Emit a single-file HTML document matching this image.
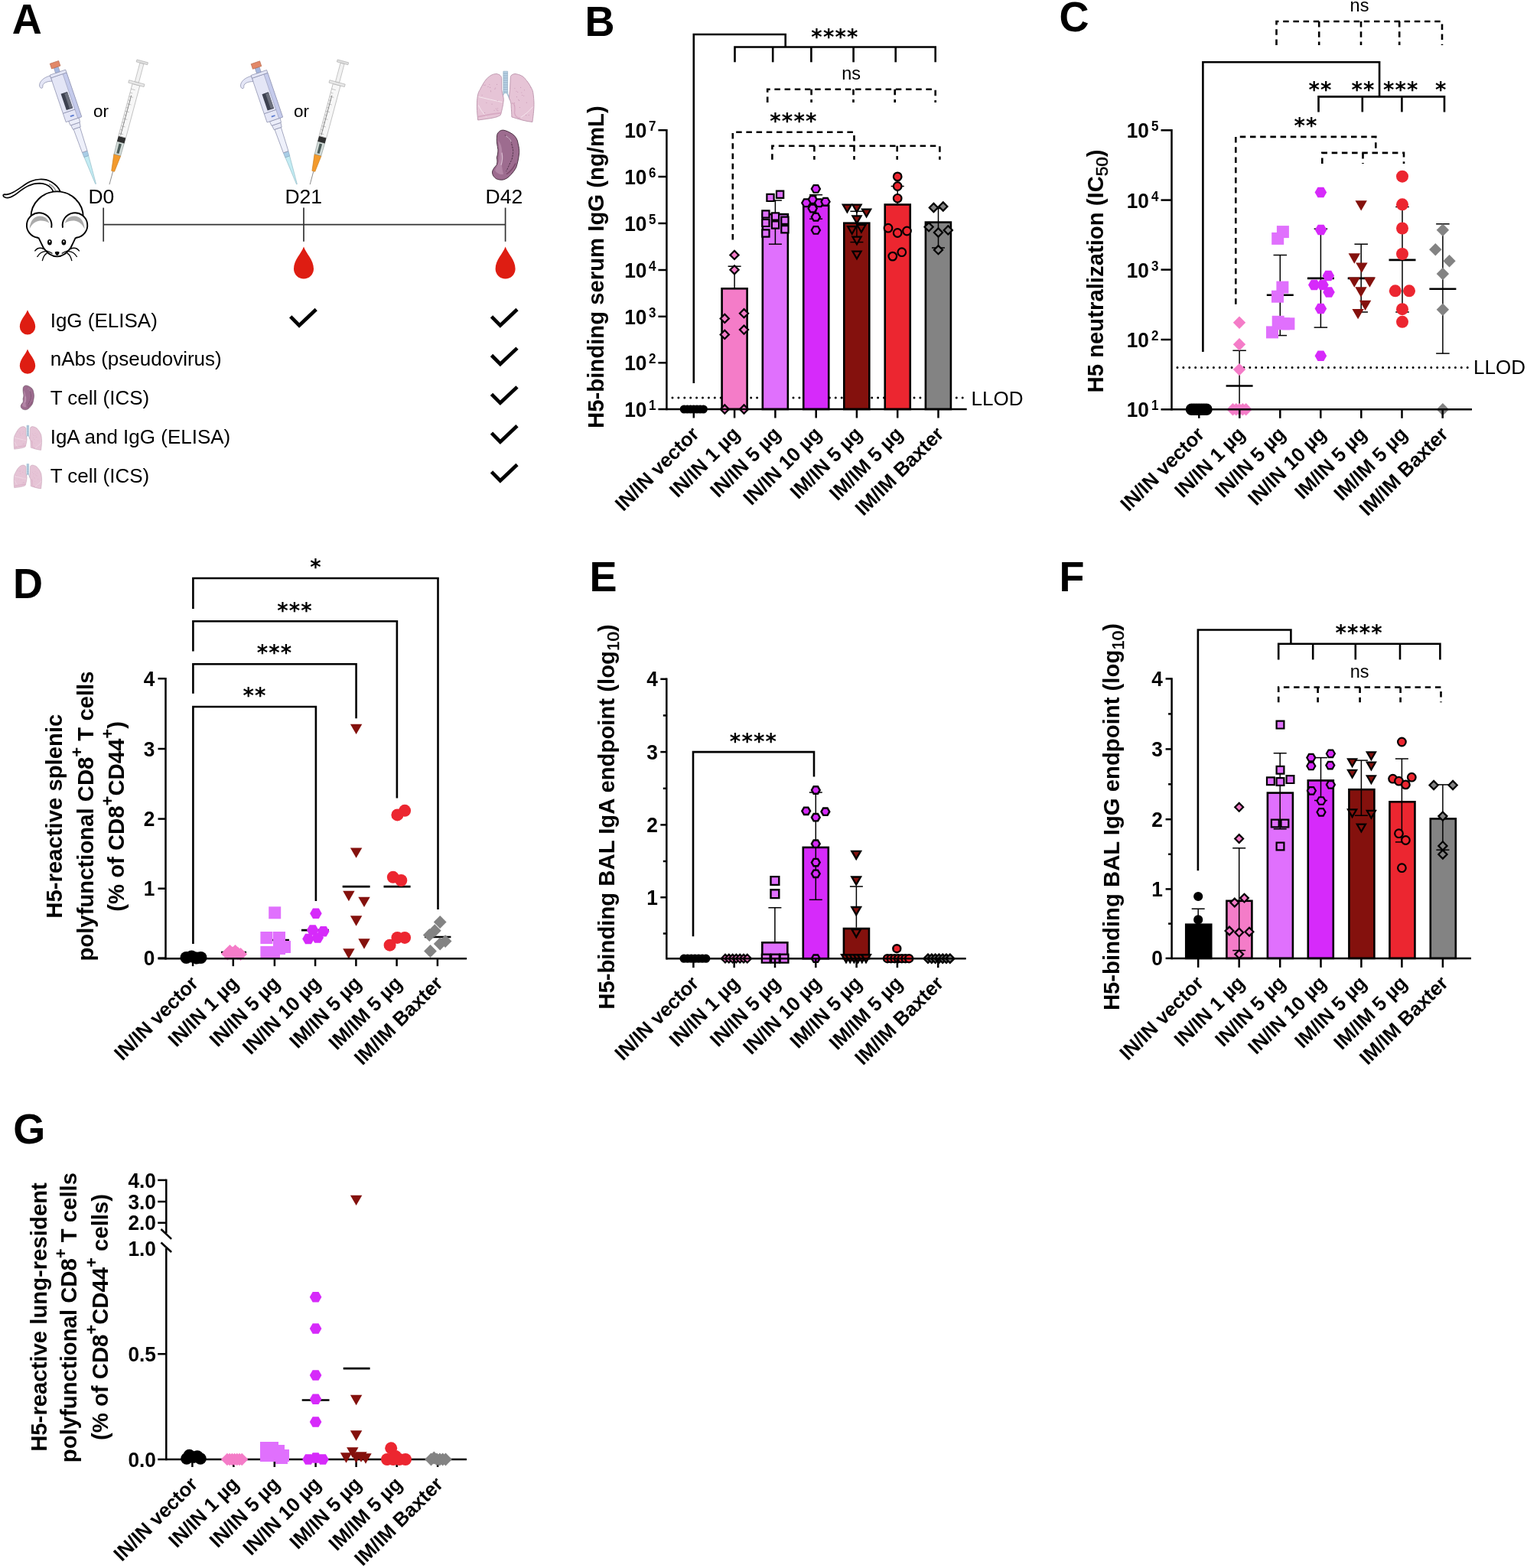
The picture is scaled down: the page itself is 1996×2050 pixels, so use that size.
<!DOCTYPE html>
<html><head><meta charset="utf-8"><title>Figure</title>
<style>html,body{margin:0;padding:0;background:#fff;}svg{display:block;}</style>
</head><body>
<svg xmlns="http://www.w3.org/2000/svg" width="1996" height="2050" viewBox="0 0 1996 2050">
<rect width="1996" height="2050" fill="#fff"/>
<text x="764.6" y="46.6" font-family='"Liberation Sans", Arial, Helvetica, sans-serif' font-size="54" font-weight="bold" text-anchor="start" transform="translate(764.6 46.6) scale(1 1.04) translate(-764.6 -46.6)">B</text>
<polyline points="906.8,501 906.8,45 1026.7,45 1026.7,61.5" fill="none" stroke="#000" stroke-width="2.6" stroke-linejoin="miter"/>
<polyline points="960.5,81.3 960.5,61.5 1222.7,61.5 1222.7,81.3" fill="none" stroke="#000" stroke-width="2.6" stroke-linejoin="miter"/>
<line x1="1010.2" y1="61.5" x2="1010.2" y2="81.3" stroke="#000" stroke-width="2.6" stroke-linecap="butt"/>
<line x1="1060.4" y1="61.5" x2="1060.4" y2="81.3" stroke="#000" stroke-width="2.6" stroke-linecap="butt"/>
<line x1="1115.6" y1="61.5" x2="1115.6" y2="81.3" stroke="#000" stroke-width="2.6" stroke-linecap="butt"/>
<line x1="1170.7" y1="61.5" x2="1170.7" y2="81.3" stroke="#000" stroke-width="2.6" stroke-linecap="butt"/>
<text x="1091.5" y="58" font-family='"DejaVu Sans", "Liberation Sans", sans-serif' font-size="27.5" font-weight="bold" text-anchor="middle" letter-spacing="1.2">****</text>
<text x="1112.7" y="104" font-family='"Liberation Sans", Arial, Helvetica, sans-serif' font-size="23.5" font-weight="normal" text-anchor="middle">ns</text>
<polyline points="1003.2,134 1003.2,116.8 1222.7,116.8 1222.7,134" fill="none" stroke="#000" stroke-width="2.6" stroke-linejoin="miter" stroke-dasharray="7.5 5.7"/>
<line x1="1060.6" y1="116.8" x2="1060.6" y2="134" stroke="#000" stroke-width="2.6" stroke-linecap="butt" stroke-dasharray="7.5 5.7"/>
<line x1="1115.5" y1="116.8" x2="1115.5" y2="134" stroke="#000" stroke-width="2.6" stroke-linecap="butt" stroke-dasharray="7.5 5.7"/>
<line x1="1169.7" y1="116.8" x2="1169.7" y2="134" stroke="#000" stroke-width="2.6" stroke-linecap="butt" stroke-dasharray="7.5 5.7"/>
<text x="1037.4" y="168" font-family='"DejaVu Sans", "Liberation Sans", sans-serif' font-size="27.5" font-weight="bold" text-anchor="middle" letter-spacing="1.2">****</text>
<polyline points="957.8,313.6 957.8,172.8 1116.5,172.8 1116.5,190.7" fill="none" stroke="#000" stroke-width="2.6" stroke-linejoin="miter" stroke-dasharray="7.5 5.7"/>
<polyline points="1009.4,208.7 1009.4,190.7 1228.4,190.7 1228.4,208.7" fill="none" stroke="#000" stroke-width="2.6" stroke-linejoin="miter" stroke-dasharray="7.5 5.7"/>
<line x1="1064.4" y1="190.7" x2="1064.4" y2="208.7" stroke="#000" stroke-width="2.6" stroke-linecap="butt" stroke-dasharray="7.5 5.7"/>
<line x1="1116.5" y1="190.7" x2="1116.5" y2="208.7" stroke="#000" stroke-width="2.6" stroke-linecap="butt" stroke-dasharray="7.5 5.7"/>
<line x1="1172.7" y1="190.7" x2="1172.7" y2="208.7" stroke="#000" stroke-width="2.6" stroke-linecap="butt" stroke-dasharray="7.5 5.7"/>
<line x1="879" y1="520" x2="1263.7" y2="520" stroke="#000" stroke-width="3" stroke-linecap="round" stroke-dasharray="0 7.9"/>
<text x="1269.6" y="529.5" font-family='"Liberation Sans", Arial, Helvetica, sans-serif' font-size="26" font-weight="normal" text-anchor="start">LLOD</text>
<rect x="943.6" y="377.3" width="33" height="157.7" fill="#f47cc8" stroke="#000" stroke-width="2.6"/>
<rect x="996.85" y="280.1" width="33" height="254.9" fill="#e070fd" stroke="#000" stroke-width="2.6"/>
<rect x="1050.25" y="268.6" width="33" height="266.4" fill="#d62afa" stroke="#000" stroke-width="2.6"/>
<rect x="1103.3" y="291.7" width="33" height="243.3" fill="#84110d" stroke="#000" stroke-width="2.6"/>
<rect x="1156.75" y="267.5" width="33" height="267.5" fill="#ec2630" stroke="#000" stroke-width="2.6"/>
<rect x="1209.9" y="290.6" width="33" height="244.4" fill="#838383" stroke="#000" stroke-width="2.6"/>
<line x1="960.1" y1="348.2" x2="960.1" y2="376" stroke="#000" stroke-width="1.5" stroke-linecap="butt"/>
<line x1="951.6" y1="348.2" x2="968.6" y2="348.2" stroke="#000" stroke-width="1.5" stroke-linecap="butt"/>
<line x1="1013.4" y1="262" x2="1013.4" y2="319.2" stroke="#000" stroke-width="1.5" stroke-linecap="butt"/>
<line x1="1004.9" y1="262" x2="1021.9" y2="262" stroke="#000" stroke-width="1.5" stroke-linecap="butt"/>
<line x1="1004.9" y1="319.2" x2="1021.9" y2="319.2" stroke="#000" stroke-width="1.5" stroke-linecap="butt"/>
<line x1="1066.6" y1="254.7" x2="1066.6" y2="286.2" stroke="#000" stroke-width="1.5" stroke-linecap="butt"/>
<line x1="1058.1" y1="254.7" x2="1075.1" y2="254.7" stroke="#000" stroke-width="1.5" stroke-linecap="butt"/>
<line x1="1058.1" y1="286.2" x2="1075.1" y2="286.2" stroke="#000" stroke-width="1.5" stroke-linecap="butt"/>
<line x1="1119.9" y1="276.3" x2="1119.9" y2="316.6" stroke="#000" stroke-width="1.5" stroke-linecap="butt"/>
<line x1="1111.4" y1="276.3" x2="1128.4" y2="276.3" stroke="#000" stroke-width="1.5" stroke-linecap="butt"/>
<line x1="1111.4" y1="316.6" x2="1128.4" y2="316.6" stroke="#000" stroke-width="1.5" stroke-linecap="butt"/>
<line x1="1173.2" y1="243.5" x2="1173.2" y2="266.2" stroke="#000" stroke-width="1.5" stroke-linecap="butt"/>
<line x1="1164.7" y1="243.5" x2="1181.7" y2="243.5" stroke="#000" stroke-width="1.5" stroke-linecap="butt"/>
<line x1="1226.5" y1="272.5" x2="1226.5" y2="324" stroke="#000" stroke-width="1.5" stroke-linecap="butt"/>
<line x1="1218" y1="272.5" x2="1235" y2="272.5" stroke="#000" stroke-width="1.5" stroke-linecap="butt"/>
<line x1="1218" y1="324" x2="1235" y2="324" stroke="#000" stroke-width="1.5" stroke-linecap="butt"/>
<circle cx="894.2" cy="535" r="5.5" fill="#000000"/>
<circle cx="898.4" cy="535" r="5.5" fill="#000000"/>
<circle cx="902.6" cy="535" r="5.5" fill="#000000"/>
<circle cx="906.8" cy="535" r="5.5" fill="#000000"/>
<circle cx="911" cy="535" r="5.5" fill="#000000"/>
<circle cx="915.2" cy="535" r="5.5" fill="#000000"/>
<circle cx="919.4" cy="535" r="5.5" fill="#000000"/>
<polygon points="960,327.8 965.6,333.4 960,339 954.4,333.4" fill="#f47cc8" stroke="#000" stroke-width="2.2" stroke-linejoin="miter"/>
<polygon points="960,347.2 965.6,352.8 960,358.4 954.4,352.8" fill="#f47cc8" stroke="#000" stroke-width="2.2" stroke-linejoin="miter"/>
<polygon points="947.3,410.8 952.9,416.4 947.3,422 941.7,416.4" fill="#f47cc8" stroke="#000" stroke-width="2.2" stroke-linejoin="miter"/>
<polygon points="972.5,404.1 978.1,409.7 972.5,415.3 966.9,409.7" fill="#f47cc8" stroke="#000" stroke-width="2.2" stroke-linejoin="miter"/>
<polygon points="947.3,431.8 952.9,437.4 947.3,443 941.7,437.4" fill="#f47cc8" stroke="#000" stroke-width="2.2" stroke-linejoin="miter"/>
<polygon points="972.5,425.5 978.1,431.1 972.5,436.7 966.9,431.1" fill="#f47cc8" stroke="#000" stroke-width="2.2" stroke-linejoin="miter"/>
<polygon points="947.3,529.4 952.9,535 947.3,540.6 941.7,535" fill="#f47cc8" stroke="#000" stroke-width="2.2" stroke-linejoin="miter"/>
<polygon points="972.5,529.4 978.1,535 972.5,540.6 966.9,535" fill="#f47cc8" stroke="#000" stroke-width="2.2" stroke-linejoin="miter"/>
<polygon points="1008.9,278.4 1018.1,278.4 1018.1,287.6 1008.9,287.6" fill="#e070fd" stroke="#000" stroke-width="2.2" stroke-linejoin="miter"/>
<polygon points="1002.4,253.8 1011.6,253.8 1011.6,263 1002.4,263" fill="#e070fd" stroke="#000" stroke-width="2.2" stroke-linejoin="miter"/>
<polygon points="1015,249.6 1024.2,249.6 1024.2,258.8 1015,258.8" fill="#e070fd" stroke="#000" stroke-width="2.2" stroke-linejoin="miter"/>
<polygon points="996.3,275.3 1005.5,275.3 1005.5,284.5 996.3,284.5" fill="#e070fd" stroke="#000" stroke-width="2.2" stroke-linejoin="miter"/>
<polygon points="996.3,286.8 1005.5,286.8 1005.5,296 996.3,296" fill="#e070fd" stroke="#000" stroke-width="2.2" stroke-linejoin="miter"/>
<polygon points="996.3,300.4 1005.5,300.4 1005.5,309.6 996.3,309.6" fill="#e070fd" stroke="#000" stroke-width="2.2" stroke-linejoin="miter"/>
<polygon points="1008.9,289.4 1018.1,289.4 1018.1,298.6 1008.9,298.6" fill="#e070fd" stroke="#000" stroke-width="2.2" stroke-linejoin="miter"/>
<polygon points="1021.3,283.7 1030.5,283.7 1030.5,292.9 1021.3,292.9" fill="#e070fd" stroke="#000" stroke-width="2.2" stroke-linejoin="miter"/>
<polygon points="1021.3,295.2 1030.5,295.2 1030.5,304.4 1021.3,304.4" fill="#e070fd" stroke="#000" stroke-width="2.2" stroke-linejoin="miter"/>
<polygon points="1060.8,246.9 1063.6,242.05 1069.2,242.05 1072,246.9 1069.2,251.75 1063.6,251.75" fill="#d62afa" stroke="#000" stroke-width="2.2" stroke-linejoin="miter"/>
<polygon points="1056.6,261 1059.4,256.15 1065,256.15 1067.8,261 1065,265.85 1059.4,265.85" fill="#d62afa" stroke="#000" stroke-width="2.2" stroke-linejoin="miter"/>
<polygon points="1048.2,265.2 1051,260.35 1056.6,260.35 1059.4,265.2 1056.6,270.05 1051,270.05" fill="#d62afa" stroke="#000" stroke-width="2.2" stroke-linejoin="miter"/>
<polygon points="1065,265.2 1067.8,260.35 1073.4,260.35 1076.2,265.2 1073.4,270.05 1067.8,270.05" fill="#d62afa" stroke="#000" stroke-width="2.2" stroke-linejoin="miter"/>
<polygon points="1073.4,263.7 1076.2,258.85 1081.8,258.85 1084.6,263.7 1081.8,268.55 1076.2,268.55" fill="#d62afa" stroke="#000" stroke-width="2.2" stroke-linejoin="miter"/>
<polygon points="1056.6,272.5 1059.4,267.65 1065,267.65 1067.8,272.5 1065,277.35 1059.4,277.35" fill="#d62afa" stroke="#000" stroke-width="2.2" stroke-linejoin="miter"/>
<polygon points="1060.8,283.7 1063.6,278.85 1069.2,278.85 1072,283.7 1069.2,288.55 1063.6,288.55" fill="#d62afa" stroke="#000" stroke-width="2.2" stroke-linejoin="miter"/>
<polygon points="1060.8,300.9 1063.6,296.05 1069.2,296.05 1072,300.9 1069.2,305.75 1063.6,305.75" fill="#d62afa" stroke="#000" stroke-width="2.2" stroke-linejoin="miter"/>
<polygon points="1101.8,267.65 1113,267.65 1107.4,277.35" fill="#84110d" stroke="#000" stroke-width="2.2" stroke-linejoin="miter"/>
<polygon points="1114.4,267.65 1125.6,267.65 1120,277.35" fill="#84110d" stroke="#000" stroke-width="2.2" stroke-linejoin="miter"/>
<polygon points="1127,273.55 1138.2,273.55 1132.6,283.25" fill="#84110d" stroke="#000" stroke-width="2.2" stroke-linejoin="miter"/>
<polygon points="1114.4,282.35 1125.6,282.35 1120,292.05" fill="#84110d" stroke="#000" stroke-width="2.2" stroke-linejoin="miter"/>
<polygon points="1108.1,296.05 1119.3,296.05 1113.7,305.75" fill="#84110d" stroke="#000" stroke-width="2.2" stroke-linejoin="miter"/>
<polygon points="1120.3,293.95 1131.5,293.95 1125.9,303.65" fill="#84110d" stroke="#000" stroke-width="2.2" stroke-linejoin="miter"/>
<polygon points="1114.4,309.65 1125.6,309.65 1120,319.35" fill="#84110d" stroke="#000" stroke-width="2.2" stroke-linejoin="miter"/>
<polygon points="1114.4,328.55 1125.6,328.55 1120,338.25" fill="#84110d" stroke="#000" stroke-width="2.2" stroke-linejoin="miter"/>
<circle cx="1173.2" cy="230.9" r="5.3" fill="#ec2630" stroke="#000" stroke-width="2.2" stroke-linejoin="miter"/>
<circle cx="1173.2" cy="243.5" r="5.3" fill="#ec2630" stroke="#000" stroke-width="2.2" stroke-linejoin="miter"/>
<circle cx="1173.2" cy="259.3" r="5.3" fill="#ec2630" stroke="#000" stroke-width="2.2" stroke-linejoin="miter"/>
<circle cx="1161" cy="298.2" r="5.3" fill="#ec2630" stroke="#000" stroke-width="2.2" stroke-linejoin="miter"/>
<circle cx="1173.2" cy="304.5" r="5.3" fill="#ec2630" stroke="#000" stroke-width="2.2" stroke-linejoin="miter"/>
<circle cx="1185.5" cy="302" r="5.3" fill="#ec2630" stroke="#000" stroke-width="2.2" stroke-linejoin="miter"/>
<circle cx="1178.8" cy="329.7" r="5.3" fill="#ec2630" stroke="#000" stroke-width="2.2" stroke-linejoin="miter"/>
<circle cx="1166.8" cy="335.1" r="5.3" fill="#ec2630" stroke="#000" stroke-width="2.2" stroke-linejoin="miter"/>
<polygon points="1220.4,265.9 1226,271.5 1220.4,277.1 1214.8,271.5" fill="#838383" stroke="#000" stroke-width="2.2" stroke-linejoin="miter"/>
<polygon points="1232.8,264.4 1238.4,270 1232.8,275.6 1227.2,270" fill="#838383" stroke="#000" stroke-width="2.2" stroke-linejoin="miter"/>
<polygon points="1214.1,291.1 1219.7,296.7 1214.1,302.3 1208.5,296.7" fill="#838383" stroke="#000" stroke-width="2.2" stroke-linejoin="miter"/>
<polygon points="1226.5,298.4 1232.1,304 1226.5,309.6 1220.9,304" fill="#838383" stroke="#000" stroke-width="2.2" stroke-linejoin="miter"/>
<polygon points="1239.3,295.3 1244.9,300.9 1239.3,306.5 1233.7,300.9" fill="#838383" stroke="#000" stroke-width="2.2" stroke-linejoin="miter"/>
<polygon points="1226.5,321.1 1232.1,326.7 1226.5,332.3 1220.9,326.7" fill="#838383" stroke="#000" stroke-width="2.2" stroke-linejoin="miter"/>
<line x1="871.4" y1="168.95" x2="871.4" y2="536.25" stroke="#000" stroke-width="2.5" stroke-linecap="butt"/>
<line x1="860.4" y1="170.2" x2="871.4" y2="170.2" stroke="#000" stroke-width="2.5" stroke-linecap="butt"/>
<line x1="860.4" y1="231" x2="871.4" y2="231" stroke="#000" stroke-width="2.5" stroke-linecap="butt"/>
<line x1="860.4" y1="292" x2="871.4" y2="292" stroke="#000" stroke-width="2.5" stroke-linecap="butt"/>
<line x1="860.4" y1="353" x2="871.4" y2="353" stroke="#000" stroke-width="2.5" stroke-linecap="butt"/>
<line x1="860.4" y1="413.8" x2="871.4" y2="413.8" stroke="#000" stroke-width="2.5" stroke-linecap="butt"/>
<line x1="860.4" y1="474.3" x2="871.4" y2="474.3" stroke="#000" stroke-width="2.5" stroke-linecap="butt"/>
<line x1="860.4" y1="535" x2="871.4" y2="535" stroke="#000" stroke-width="2.5" stroke-linecap="butt"/>
<line x1="871.4" y1="535" x2="1263.7" y2="535" stroke="#000" stroke-width="2.5" stroke-linecap="butt"/>
<line x1="906.8" y1="535" x2="906.8" y2="546.5" stroke="#000" stroke-width="2.5" stroke-linecap="butt"/>
<line x1="960.1" y1="535" x2="960.1" y2="546.5" stroke="#000" stroke-width="2.5" stroke-linecap="butt"/>
<line x1="1013.4" y1="535" x2="1013.4" y2="546.5" stroke="#000" stroke-width="2.5" stroke-linecap="butt"/>
<line x1="1066.7" y1="535" x2="1066.7" y2="546.5" stroke="#000" stroke-width="2.5" stroke-linecap="butt"/>
<line x1="1119.9" y1="535" x2="1119.9" y2="546.5" stroke="#000" stroke-width="2.5" stroke-linecap="butt"/>
<line x1="1173.2" y1="535" x2="1173.2" y2="546.5" stroke="#000" stroke-width="2.5" stroke-linecap="butt"/>
<line x1="1226.5" y1="535" x2="1226.5" y2="546.5" stroke="#000" stroke-width="2.5" stroke-linecap="butt"/>
<text x="845.5" y="180.2" font-family='"Liberation Sans", Arial, Helvetica, sans-serif' font-size="26.3" font-weight="bold" text-anchor="end" transform="translate(845.5 180.2) scale(1 1.03) translate(-845.5 -180.2)">10</text>
<text x="848" y="171.4" font-family='"Liberation Sans", Arial, Helvetica, sans-serif' font-size="17" font-weight="bold" text-anchor="start" transform="translate(848 171.4) scale(1 1.03) translate(-848 -171.4)">7</text>
<text x="845.5" y="241" font-family='"Liberation Sans", Arial, Helvetica, sans-serif' font-size="26.3" font-weight="bold" text-anchor="end" transform="translate(845.5 241) scale(1 1.03) translate(-845.5 -241)">10</text>
<text x="848" y="232.2" font-family='"Liberation Sans", Arial, Helvetica, sans-serif' font-size="17" font-weight="bold" text-anchor="start" transform="translate(848 232.2) scale(1 1.03) translate(-848 -232.2)">6</text>
<text x="845.5" y="302" font-family='"Liberation Sans", Arial, Helvetica, sans-serif' font-size="26.3" font-weight="bold" text-anchor="end" transform="translate(845.5 302) scale(1 1.03) translate(-845.5 -302)">10</text>
<text x="848" y="293.2" font-family='"Liberation Sans", Arial, Helvetica, sans-serif' font-size="17" font-weight="bold" text-anchor="start" transform="translate(848 293.2) scale(1 1.03) translate(-848 -293.2)">5</text>
<text x="845.5" y="363" font-family='"Liberation Sans", Arial, Helvetica, sans-serif' font-size="26.3" font-weight="bold" text-anchor="end" transform="translate(845.5 363) scale(1 1.03) translate(-845.5 -363)">10</text>
<text x="848" y="354.2" font-family='"Liberation Sans", Arial, Helvetica, sans-serif' font-size="17" font-weight="bold" text-anchor="start" transform="translate(848 354.2) scale(1 1.03) translate(-848 -354.2)">4</text>
<text x="845.5" y="423.8" font-family='"Liberation Sans", Arial, Helvetica, sans-serif' font-size="26.3" font-weight="bold" text-anchor="end" transform="translate(845.5 423.8) scale(1 1.03) translate(-845.5 -423.8)">10</text>
<text x="848" y="415" font-family='"Liberation Sans", Arial, Helvetica, sans-serif' font-size="17" font-weight="bold" text-anchor="start" transform="translate(848 415) scale(1 1.03) translate(-848 -415)">3</text>
<text x="845.5" y="484.3" font-family='"Liberation Sans", Arial, Helvetica, sans-serif' font-size="26.3" font-weight="bold" text-anchor="end" transform="translate(845.5 484.3) scale(1 1.03) translate(-845.5 -484.3)">10</text>
<text x="848" y="475.5" font-family='"Liberation Sans", Arial, Helvetica, sans-serif' font-size="17" font-weight="bold" text-anchor="start" transform="translate(848 475.5) scale(1 1.03) translate(-848 -475.5)">2</text>
<text x="845.5" y="545" font-family='"Liberation Sans", Arial, Helvetica, sans-serif' font-size="26.3" font-weight="bold" text-anchor="end" transform="translate(845.5 545) scale(1 1.03) translate(-845.5 -545)">10</text>
<text x="848" y="536.2" font-family='"Liberation Sans", Arial, Helvetica, sans-serif' font-size="17" font-weight="bold" text-anchor="start" transform="translate(848 536.2) scale(1 1.03) translate(-848 -536.2)">1</text>
<text x="788.9" y="349.1" font-family='"Liberation Sans", Arial, Helvetica, sans-serif' font-size="29.3" font-weight="bold" text-anchor="middle" transform="rotate(-90 788.9 349.1)">H5-binding serum IgG (ng/mL)</text>
<text x="915.3" y="569" font-family='"Liberation Sans", Arial, Helvetica, sans-serif' font-size="25.6" font-weight="bold" text-anchor="end" transform="rotate(-45 915.3 569) translate(915.3 569) scale(1 1.02) translate(-915.3 -569)">IN/IN vector</text>
<text x="968.6" y="569" font-family='"Liberation Sans", Arial, Helvetica, sans-serif' font-size="25.6" font-weight="bold" text-anchor="end" transform="rotate(-45 968.6 569) translate(968.6 569) scale(1 1.02) translate(-968.6 -569)">IN/IN 1 µg</text>
<text x="1021.9" y="569" font-family='"Liberation Sans", Arial, Helvetica, sans-serif' font-size="25.6" font-weight="bold" text-anchor="end" transform="rotate(-45 1021.9 569) translate(1021.9 569) scale(1 1.02) translate(-1021.9 -569)">IN/IN 5 µg</text>
<text x="1075.2" y="569" font-family='"Liberation Sans", Arial, Helvetica, sans-serif' font-size="25.6" font-weight="bold" text-anchor="end" transform="rotate(-45 1075.2 569) translate(1075.2 569) scale(1 1.02) translate(-1075.2 -569)">IN/IN 10 µg</text>
<text x="1128.4" y="569" font-family='"Liberation Sans", Arial, Helvetica, sans-serif' font-size="25.6" font-weight="bold" text-anchor="end" transform="rotate(-45 1128.4 569) translate(1128.4 569) scale(1 1.02) translate(-1128.4 -569)">IM/IN 5 µg</text>
<text x="1181.7" y="569" font-family='"Liberation Sans", Arial, Helvetica, sans-serif' font-size="25.6" font-weight="bold" text-anchor="end" transform="rotate(-45 1181.7 569) translate(1181.7 569) scale(1 1.02) translate(-1181.7 -569)">IM/IM 5 µg</text>
<text x="1235" y="569" font-family='"Liberation Sans", Arial, Helvetica, sans-serif' font-size="25.6" font-weight="bold" text-anchor="end" transform="rotate(-45 1235 569) translate(1235 569) scale(1 1.02) translate(-1235 -569)">IM/IM Baxter</text>
<text x="1384.4" y="41.3" font-family='"Liberation Sans", Arial, Helvetica, sans-serif' font-size="54" font-weight="bold" text-anchor="start" transform="translate(1384.4 41.3) scale(1 1.04) translate(-1384.4 -41.3)">C</text>
<polyline points="1572.4,459.9 1572.4,81.2 1803.1,81.2 1803.1,126.4" fill="none" stroke="#000" stroke-width="2.6" stroke-linejoin="miter"/>
<polyline points="1723.5,146.4 1723.5,126.4 1888,126.4 1888,146.4" fill="none" stroke="#000" stroke-width="2.6" stroke-linejoin="miter"/>
<line x1="1780.8" y1="126.4" x2="1780.8" y2="146.4" stroke="#000" stroke-width="2.6" stroke-linecap="butt"/>
<line x1="1832.4" y1="126.4" x2="1832.4" y2="146.4" stroke="#000" stroke-width="2.6" stroke-linecap="butt"/>
<text x="1726" y="126.8" font-family='"DejaVu Sans", "Liberation Sans", sans-serif' font-size="27.5" font-weight="bold" text-anchor="middle" letter-spacing="1.2">**</text>
<text x="1782" y="126.8" font-family='"DejaVu Sans", "Liberation Sans", sans-serif' font-size="27.5" font-weight="bold" text-anchor="middle" letter-spacing="1.2">**</text>
<text x="1831.3" y="126.8" font-family='"DejaVu Sans", "Liberation Sans", sans-serif' font-size="27.5" font-weight="bold" text-anchor="middle" letter-spacing="1.2">***</text>
<text x="1883.9" y="126.8" font-family='"DejaVu Sans", "Liberation Sans", sans-serif' font-size="27.5" font-weight="bold" text-anchor="middle" letter-spacing="1.2">*</text>
<text x="1777" y="15.3" font-family='"Liberation Sans", Arial, Helvetica, sans-serif' font-size="23.5" font-weight="normal" text-anchor="middle">ns</text>
<polyline points="1668.5,58.9 1668.5,28 1885,28 1885,58.9" fill="none" stroke="#000" stroke-width="2.6" stroke-linejoin="miter" stroke-dasharray="7.5 5.7"/>
<line x1="1724.2" y1="28" x2="1724.2" y2="58.9" stroke="#000" stroke-width="2.6" stroke-linecap="butt" stroke-dasharray="7.5 5.7"/>
<line x1="1779" y1="28" x2="1779" y2="58.9" stroke="#000" stroke-width="2.6" stroke-linecap="butt" stroke-dasharray="7.5 5.7"/>
<line x1="1829.2" y1="28" x2="1829.2" y2="58.9" stroke="#000" stroke-width="2.6" stroke-linecap="butt" stroke-dasharray="7.5 5.7"/>
<text x="1707" y="173.5" font-family='"DejaVu Sans", "Liberation Sans", sans-serif' font-size="27.5" font-weight="bold" text-anchor="middle" letter-spacing="1.2">**</text>
<polyline points="1615.3,397.8 1615.3,178.9 1798.3,178.9 1798.3,199.9" fill="none" stroke="#000" stroke-width="2.6" stroke-linejoin="miter" stroke-dasharray="7.5 5.7"/>
<polyline points="1728.3,213.9 1728.3,199.9 1835,199.9 1835,213.9" fill="none" stroke="#000" stroke-width="2.6" stroke-linejoin="miter" stroke-dasharray="7.5 5.7"/>
<line x1="1781.5" y1="199.9" x2="1781.5" y2="213.9" stroke="#000" stroke-width="2.6" stroke-linecap="butt" stroke-dasharray="7.5 5.7"/>
<line x1="1539" y1="480.6" x2="1923" y2="480.6" stroke="#000" stroke-width="3" stroke-linecap="round" stroke-dasharray="0 7.9"/>
<text x="1926" y="488.5" font-family='"Liberation Sans", Arial, Helvetica, sans-serif' font-size="26" font-weight="normal" text-anchor="start">LLOD</text>
<circle cx="1557.5" cy="535.3" r="7.8" fill="#000000"/>
<circle cx="1560.75" cy="535.3" r="7.8" fill="#000000"/>
<circle cx="1564" cy="535.3" r="7.8" fill="#000000"/>
<circle cx="1567.25" cy="535.3" r="7.8" fill="#000000"/>
<circle cx="1570.5" cy="535.3" r="7.8" fill="#000000"/>
<circle cx="1573.75" cy="535.3" r="7.8" fill="#000000"/>
<circle cx="1577" cy="535.3" r="7.8" fill="#000000"/>
<line x1="1602.6" y1="504.5" x2="1637.6" y2="504.5" stroke="#000" stroke-width="2.6" stroke-linecap="butt"/>
<line x1="1620.1" y1="458.3" x2="1620.1" y2="504.5" stroke="#000" stroke-width="1.5" stroke-linecap="butt"/>
<line x1="1611.35" y1="458.3" x2="1628.85" y2="458.3" stroke="#000" stroke-width="1.5" stroke-linecap="butt"/>
<line x1="1620.1" y1="504.5" x2="1620.1" y2="535.3" stroke="#000" stroke-width="1.5" stroke-linecap="butt"/>
<polygon points="1620,413.5 1628.2,421.7 1620,429.9 1611.8,421.7" fill="#f47cc8"/>
<polygon points="1620,442.1 1628.2,450.3 1620,458.5 1611.8,450.3" fill="#f47cc8"/>
<polygon points="1620,474.9 1628.2,483.1 1620,491.3 1611.8,483.1" fill="#f47cc8"/>
<polygon points="1611.5,527.1 1619.7,535.3 1611.5,543.5 1603.3,535.3" fill="#f47cc8"/>
<polygon points="1615.8,527.1 1624,535.3 1615.8,543.5 1607.6,535.3" fill="#f47cc8"/>
<polygon points="1620.1,527.1 1628.3,535.3 1620.1,543.5 1611.9,535.3" fill="#f47cc8"/>
<polygon points="1624.4,527.1 1632.6,535.3 1624.4,543.5 1616.2,535.3" fill="#f47cc8"/>
<polygon points="1628.7,527.1 1636.9,535.3 1628.7,543.5 1620.5,535.3" fill="#f47cc8"/>
<line x1="1655.8" y1="385.7" x2="1690.8" y2="385.7" stroke="#000" stroke-width="2.6" stroke-linecap="butt"/>
<line x1="1673.3" y1="333.5" x2="1673.3" y2="438.6" stroke="#000" stroke-width="1.5" stroke-linecap="butt"/>
<line x1="1664.55" y1="333.5" x2="1682.05" y2="333.5" stroke="#000" stroke-width="1.5" stroke-linecap="butt"/>
<line x1="1664.55" y1="438.6" x2="1682.05" y2="438.6" stroke="#000" stroke-width="1.5" stroke-linecap="butt"/>
<polygon points="1668.9,295.1 1684.9,295.1 1684.9,311.1 1668.9,311.1" fill="#e070fd"/>
<polygon points="1662.2,303.9 1678.2,303.9 1678.2,319.9 1662.2,319.9" fill="#e070fd"/>
<polygon points="1668.4,367.6 1684.4,367.6 1684.4,383.6 1668.4,383.6" fill="#e070fd"/>
<polygon points="1662,379.7 1678,379.7 1678,395.7 1662,395.7" fill="#e070fd"/>
<polygon points="1662.7,412.8 1678.7,412.8 1678.7,428.8 1662.7,428.8" fill="#e070fd"/>
<polygon points="1676.4,415.3 1692.4,415.3 1692.4,431.3 1676.4,431.3" fill="#e070fd"/>
<polygon points="1655,426.4 1671,426.4 1671,442.4 1655,442.4" fill="#e070fd"/>
<polygon points="1670,415.3 1686,415.3 1686,431.3 1670,431.3" fill="#e070fd"/>
<line x1="1708.9" y1="363.9" x2="1743.9" y2="363.9" stroke="#000" stroke-width="2.6" stroke-linecap="butt"/>
<line x1="1726.4" y1="299.2" x2="1726.4" y2="428.1" stroke="#000" stroke-width="1.5" stroke-linecap="butt"/>
<line x1="1717.65" y1="299.2" x2="1735.15" y2="299.2" stroke="#000" stroke-width="1.5" stroke-linecap="butt"/>
<line x1="1717.65" y1="428.1" x2="1735.15" y2="428.1" stroke="#000" stroke-width="1.5" stroke-linecap="butt"/>
<polygon points="1718.6,251.4 1722.5,244.65 1730.3,244.65 1734.2,251.4 1730.3,258.15 1722.5,258.15" fill="#d62afa"/>
<polygon points="1718.8,300.6 1722.7,293.85 1730.5,293.85 1734.4,300.6 1730.5,307.35 1722.7,307.35" fill="#d62afa"/>
<polygon points="1728.5,360.6 1732.4,353.85 1740.2,353.85 1744.1,360.6 1740.2,367.35 1732.4,367.35" fill="#d62afa"/>
<polygon points="1710,372.4 1713.9,365.65 1721.7,365.65 1725.6,372.4 1721.7,379.15 1713.9,379.15" fill="#d62afa"/>
<polygon points="1721.2,372.4 1725.1,365.65 1732.9,365.65 1736.8,372.4 1732.9,379.15 1725.1,379.15" fill="#d62afa"/>
<polygon points="1729.2,382 1733.1,375.25 1740.9,375.25 1744.8,382 1740.9,388.75 1733.1,388.75" fill="#d62afa"/>
<polygon points="1718.6,403.6 1722.5,396.85 1730.3,396.85 1734.2,403.6 1730.3,410.35 1722.5,410.35" fill="#d62afa"/>
<polygon points="1718.6,465.3 1722.5,458.55 1730.3,458.55 1734.2,465.3 1730.3,472.05 1722.5,472.05" fill="#d62afa"/>
<line x1="1761.7" y1="363.9" x2="1796.7" y2="363.9" stroke="#000" stroke-width="2.6" stroke-linecap="butt"/>
<line x1="1779.2" y1="319.2" x2="1779.2" y2="408" stroke="#000" stroke-width="1.5" stroke-linecap="butt"/>
<line x1="1770.45" y1="319.2" x2="1787.95" y2="319.2" stroke="#000" stroke-width="1.5" stroke-linecap="butt"/>
<line x1="1770.45" y1="408" x2="1787.95" y2="408" stroke="#000" stroke-width="1.5" stroke-linecap="butt"/>
<polygon points="1771.5,262.23 1786.9,262.23 1779.2,275.57" fill="#84110d"/>
<polygon points="1762.6,331.33 1778,331.33 1770.3,344.67" fill="#84110d"/>
<polygon points="1772.2,343.43 1787.6,343.43 1779.9,356.77" fill="#84110d"/>
<polygon points="1762.6,362.53 1778,362.53 1770.3,375.87" fill="#84110d"/>
<polygon points="1782.7,362.53 1798.1,362.53 1790.4,375.87" fill="#84110d"/>
<polygon points="1771.3,375.33 1786.7,375.33 1779,388.67" fill="#84110d"/>
<polygon points="1776.9,392.73 1792.3,392.73 1784.6,406.07" fill="#84110d"/>
<polygon points="1767.4,403.93 1782.8,403.93 1775.1,417.27" fill="#84110d"/>
<line x1="1815.5" y1="339.9" x2="1850.5" y2="339.9" stroke="#000" stroke-width="2.6" stroke-linecap="butt"/>
<line x1="1833" y1="270.5" x2="1833" y2="408" stroke="#000" stroke-width="1.5" stroke-linecap="butt"/>
<line x1="1824.25" y1="270.5" x2="1841.75" y2="270.5" stroke="#000" stroke-width="1.5" stroke-linecap="butt"/>
<line x1="1824.25" y1="408" x2="1841.75" y2="408" stroke="#000" stroke-width="1.5" stroke-linecap="butt"/>
<circle cx="1833" cy="230.7" r="8" fill="#ec2630"/>
<circle cx="1833" cy="267.3" r="8" fill="#ec2630"/>
<circle cx="1833" cy="298.5" r="8" fill="#ec2630"/>
<circle cx="1833" cy="332" r="8" fill="#ec2630"/>
<circle cx="1823.8" cy="380.3" r="8" fill="#ec2630"/>
<circle cx="1842" cy="380.3" r="8" fill="#ec2630"/>
<circle cx="1833" cy="404.2" r="8" fill="#ec2630"/>
<circle cx="1833" cy="420.8" r="8" fill="#ec2630"/>
<line x1="1868.4" y1="377.8" x2="1903.4" y2="377.8" stroke="#000" stroke-width="2.6" stroke-linecap="butt"/>
<line x1="1885.9" y1="292.8" x2="1885.9" y2="462.1" stroke="#000" stroke-width="1.5" stroke-linecap="butt"/>
<line x1="1877.15" y1="292.8" x2="1894.65" y2="292.8" stroke="#000" stroke-width="1.5" stroke-linecap="butt"/>
<line x1="1877.15" y1="462.1" x2="1894.65" y2="462.1" stroke="#000" stroke-width="1.5" stroke-linecap="butt"/>
<polygon points="1885.9,292.6 1894.1,300.8 1885.9,309 1877.7,300.8" fill="#838383"/>
<polygon points="1876.3,318 1884.5,326.2 1876.3,334.4 1868.1,326.2" fill="#838383"/>
<polygon points="1894.5,333 1902.7,341.2 1894.5,349.4 1886.3,341.2" fill="#838383"/>
<polygon points="1885.9,349.8 1894.1,358 1885.9,366.2 1877.7,358" fill="#838383"/>
<polygon points="1885.9,396.6 1894.1,404.8 1885.9,413 1877.7,404.8" fill="#838383"/>
<polygon points="1885.9,527.1 1894.1,535.3 1885.9,543.5 1877.7,535.3" fill="#838383"/>
<line x1="1531.5" y1="169.05" x2="1531.5" y2="536.55" stroke="#000" stroke-width="2.5" stroke-linecap="butt"/>
<line x1="1517.5" y1="170.3" x2="1531.5" y2="170.3" stroke="#000" stroke-width="2.5" stroke-linecap="butt"/>
<line x1="1517.5" y1="261.6" x2="1531.5" y2="261.6" stroke="#000" stroke-width="2.5" stroke-linecap="butt"/>
<line x1="1517.5" y1="352.6" x2="1531.5" y2="352.6" stroke="#000" stroke-width="2.5" stroke-linecap="butt"/>
<line x1="1517.5" y1="444" x2="1531.5" y2="444" stroke="#000" stroke-width="2.5" stroke-linecap="butt"/>
<line x1="1517.5" y1="535.3" x2="1531.5" y2="535.3" stroke="#000" stroke-width="2.5" stroke-linecap="butt"/>
<line x1="1531.5" y1="535.3" x2="1924" y2="535.3" stroke="#000" stroke-width="2.5" stroke-linecap="butt"/>
<line x1="1567.3" y1="535.3" x2="1567.3" y2="546.8" stroke="#000" stroke-width="2.5" stroke-linecap="butt"/>
<line x1="1620.3" y1="535.3" x2="1620.3" y2="546.8" stroke="#000" stroke-width="2.5" stroke-linecap="butt"/>
<line x1="1673.3" y1="535.3" x2="1673.3" y2="546.8" stroke="#000" stroke-width="2.5" stroke-linecap="butt"/>
<line x1="1726.3" y1="535.3" x2="1726.3" y2="546.8" stroke="#000" stroke-width="2.5" stroke-linecap="butt"/>
<line x1="1779.3" y1="535.3" x2="1779.3" y2="546.8" stroke="#000" stroke-width="2.5" stroke-linecap="butt"/>
<line x1="1832.5" y1="535.3" x2="1832.5" y2="546.8" stroke="#000" stroke-width="2.5" stroke-linecap="butt"/>
<line x1="1885.7" y1="535.3" x2="1885.7" y2="546.8" stroke="#000" stroke-width="2.5" stroke-linecap="butt"/>
<text x="1502" y="180.3" font-family='"Liberation Sans", Arial, Helvetica, sans-serif' font-size="26.3" font-weight="bold" text-anchor="end" transform="translate(1502 180.3) scale(1 1.03) translate(-1502 -180.3)">10</text>
<text x="1505" y="171.5" font-family='"Liberation Sans", Arial, Helvetica, sans-serif' font-size="17" font-weight="bold" text-anchor="start" transform="translate(1505 171.5) scale(1 1.03) translate(-1505 -171.5)">5</text>
<text x="1502" y="271.6" font-family='"Liberation Sans", Arial, Helvetica, sans-serif' font-size="26.3" font-weight="bold" text-anchor="end" transform="translate(1502 271.6) scale(1 1.03) translate(-1502 -271.6)">10</text>
<text x="1505" y="262.8" font-family='"Liberation Sans", Arial, Helvetica, sans-serif' font-size="17" font-weight="bold" text-anchor="start" transform="translate(1505 262.8) scale(1 1.03) translate(-1505 -262.8)">4</text>
<text x="1502" y="362.6" font-family='"Liberation Sans", Arial, Helvetica, sans-serif' font-size="26.3" font-weight="bold" text-anchor="end" transform="translate(1502 362.6) scale(1 1.03) translate(-1502 -362.6)">10</text>
<text x="1505" y="353.8" font-family='"Liberation Sans", Arial, Helvetica, sans-serif' font-size="17" font-weight="bold" text-anchor="start" transform="translate(1505 353.8) scale(1 1.03) translate(-1505 -353.8)">3</text>
<text x="1502" y="454" font-family='"Liberation Sans", Arial, Helvetica, sans-serif' font-size="26.3" font-weight="bold" text-anchor="end" transform="translate(1502 454) scale(1 1.03) translate(-1502 -454)">10</text>
<text x="1505" y="445.2" font-family='"Liberation Sans", Arial, Helvetica, sans-serif' font-size="17" font-weight="bold" text-anchor="start" transform="translate(1505 445.2) scale(1 1.03) translate(-1505 -445.2)">2</text>
<text x="1502" y="545.3" font-family='"Liberation Sans", Arial, Helvetica, sans-serif' font-size="26.3" font-weight="bold" text-anchor="end" transform="translate(1502 545.3) scale(1 1.03) translate(-1502 -545.3)">10</text>
<text x="1505" y="536.5" font-family='"Liberation Sans", Arial, Helvetica, sans-serif' font-size="17" font-weight="bold" text-anchor="start" transform="translate(1505 536.5) scale(1 1.03) translate(-1505 -536.5)">1</text>
<text x="1441.8" y="354.4" font-family='"Liberation Sans", Arial, Helvetica, sans-serif' font-size="29.3" font-weight="bold" text-anchor="middle" transform="rotate(-90 1441.8 354.4)">H5 neutralization (IC<tspan font-size="22.5" font-weight="normal" stroke="#000" stroke-width="0.55" dy="6.6">50</tspan><tspan dy="-6.6">&#8203;</tspan>)</text>
<text x="1575.8" y="569.3" font-family='"Liberation Sans", Arial, Helvetica, sans-serif' font-size="25.6" font-weight="bold" text-anchor="end" transform="rotate(-45 1575.8 569.3) translate(1575.8 569.3) scale(1 1.02) translate(-1575.8 -569.3)">IN/IN vector</text>
<text x="1628.8" y="569.3" font-family='"Liberation Sans", Arial, Helvetica, sans-serif' font-size="25.6" font-weight="bold" text-anchor="end" transform="rotate(-45 1628.8 569.3) translate(1628.8 569.3) scale(1 1.02) translate(-1628.8 -569.3)">IN/IN 1 µg</text>
<text x="1681.8" y="569.3" font-family='"Liberation Sans", Arial, Helvetica, sans-serif' font-size="25.6" font-weight="bold" text-anchor="end" transform="rotate(-45 1681.8 569.3) translate(1681.8 569.3) scale(1 1.02) translate(-1681.8 -569.3)">IN/IN 5 µg</text>
<text x="1734.8" y="569.3" font-family='"Liberation Sans", Arial, Helvetica, sans-serif' font-size="25.6" font-weight="bold" text-anchor="end" transform="rotate(-45 1734.8 569.3) translate(1734.8 569.3) scale(1 1.02) translate(-1734.8 -569.3)">IN/IN 10 µg</text>
<text x="1787.8" y="569.3" font-family='"Liberation Sans", Arial, Helvetica, sans-serif' font-size="25.6" font-weight="bold" text-anchor="end" transform="rotate(-45 1787.8 569.3) translate(1787.8 569.3) scale(1 1.02) translate(-1787.8 -569.3)">IM/IN 5 µg</text>
<text x="1841" y="569.3" font-family='"Liberation Sans", Arial, Helvetica, sans-serif' font-size="25.6" font-weight="bold" text-anchor="end" transform="rotate(-45 1841 569.3) translate(1841 569.3) scale(1 1.02) translate(-1841 -569.3)">IM/IM 5 µg</text>
<text x="1894.2" y="569.3" font-family='"Liberation Sans", Arial, Helvetica, sans-serif' font-size="25.6" font-weight="bold" text-anchor="end" transform="rotate(-45 1894.2 569.3) translate(1894.2 569.3) scale(1 1.02) translate(-1894.2 -569.3)">IM/IM Baxter</text>
<text x="17.1" y="781.7" font-family='"Liberation Sans", Arial, Helvetica, sans-serif' font-size="54" font-weight="bold" text-anchor="start" transform="translate(17.1 781.7) scale(1 1.04) translate(-17.1 -781.7)">D</text>
<polyline points="252.4,1234 252.4,924 412.9,924 412.9,1178" fill="none" stroke="#000" stroke-width="2.6" stroke-linejoin="miter"/>
<text x="333" y="919" font-family='"DejaVu Sans", "Liberation Sans", sans-serif' font-size="27.5" font-weight="bold" text-anchor="middle" letter-spacing="1.2">**</text>
<polyline points="252.4,906.8 252.4,868.3 465.6,868.3 465.6,939.3" fill="none" stroke="#000" stroke-width="2.6" stroke-linejoin="miter"/>
<text x="359" y="863" font-family='"DejaVu Sans", "Liberation Sans", sans-serif' font-size="27.5" font-weight="bold" text-anchor="middle" letter-spacing="1.2">***</text>
<polyline points="252.4,851.4 252.4,812.3 518.9,812.3 518.9,1043.5" fill="none" stroke="#000" stroke-width="2.6" stroke-linejoin="miter"/>
<text x="385.5" y="807.5" font-family='"DejaVu Sans", "Liberation Sans", sans-serif' font-size="27.5" font-weight="bold" text-anchor="middle" letter-spacing="1.2">***</text>
<polyline points="252.4,796 252.4,756 572.5,756 572.5,1189" fill="none" stroke="#000" stroke-width="2.6" stroke-linejoin="miter"/>
<text x="413" y="751.2" font-family='"DejaVu Sans", "Liberation Sans", sans-serif' font-size="27.5" font-weight="bold" text-anchor="middle" letter-spacing="1.2">*</text>
<circle cx="243.5" cy="1252" r="8" fill="#000000"/>
<circle cx="250.5" cy="1250.5" r="8" fill="#000000"/>
<circle cx="257" cy="1252.5" r="8" fill="#000000"/>
<circle cx="262.5" cy="1252" r="8" fill="#000000"/>
<line x1="289" y1="1245" x2="322" y2="1245" stroke="#000" stroke-width="2.6" stroke-linecap="butt"/>
<polygon points="297.5,1238.4 306.1,1247 297.5,1255.6 288.9,1247" fill="#f47cc8"/>
<polygon points="300.5,1234.9 309.1,1243.5 300.5,1252.1 291.9,1243.5" fill="#f47cc8"/>
<polygon points="304,1237.4 312.6,1246 304,1254.6 295.4,1246" fill="#f47cc8"/>
<polygon points="307.5,1234.9 316.1,1243.5 307.5,1252.1 298.9,1243.5" fill="#f47cc8"/>
<polygon points="311,1237.9 319.6,1246.5 311,1255.1 302.4,1246.5" fill="#f47cc8"/>
<polygon points="314.5,1238.9 323.1,1247.5 314.5,1256.1 305.9,1247.5" fill="#f47cc8"/>
<line x1="341" y1="1229" x2="378" y2="1229" stroke="#000" stroke-width="2.6" stroke-linecap="butt"/>
<polygon points="351.2,1185.3 367.2,1185.3 367.2,1201.3 351.2,1201.3" fill="#e070fd"/>
<polygon points="340.4,1218 356.4,1218 356.4,1234 340.4,1234" fill="#e070fd"/>
<polygon points="357,1218 373,1218 373,1234 357,1234" fill="#e070fd"/>
<polygon points="340.4,1237 356.4,1237 356.4,1253 340.4,1253" fill="#e070fd"/>
<polygon points="364,1230 380,1230 380,1246 364,1246" fill="#e070fd"/>
<polygon points="350,1237 366,1237 366,1253 350,1253" fill="#e070fd"/>
<polygon points="357,1232 373,1232 373,1248 357,1248" fill="#e070fd"/>
<line x1="394" y1="1216.1" x2="429.8" y2="1216.1" stroke="#000" stroke-width="2.6" stroke-linecap="butt"/>
<polygon points="405.1,1194.3 409,1187.55 416.8,1187.55 420.7,1194.3 416.8,1201.05 409,1201.05" fill="#d62afa"/>
<polygon points="400.9,1216 404.8,1209.25 412.6,1209.25 416.5,1216 412.6,1222.75 404.8,1222.75" fill="#d62afa"/>
<polygon points="414.9,1217.7 418.8,1210.95 426.6,1210.95 430.5,1217.7 426.6,1224.45 418.8,1224.45" fill="#d62afa"/>
<polygon points="395.2,1227.5 399.1,1220.75 406.9,1220.75 410.8,1227.5 406.9,1234.25 399.1,1234.25" fill="#d62afa"/>
<polygon points="407.4,1225.9 411.3,1219.15 419.1,1219.15 423,1225.9 419.1,1232.65 411.3,1232.65" fill="#d62afa"/>
<line x1="447.7" y1="1159.1" x2="483.6" y2="1159.1" stroke="#000" stroke-width="2.6" stroke-linecap="butt"/>
<polygon points="457.9,946.63 473.3,946.63 465.6,959.97" fill="#84110d"/>
<polygon points="457.9,1108.53 473.3,1108.53 465.6,1121.87" fill="#84110d"/>
<polygon points="448.2,1164.83 463.6,1164.83 455.9,1178.17" fill="#84110d"/>
<polygon points="468.3,1172.63 483.7,1172.63 476,1185.97" fill="#84110d"/>
<polygon points="457.9,1197.33 473.3,1197.33 465.6,1210.67" fill="#84110d"/>
<polygon points="468.3,1227.33 483.7,1227.33 476,1240.67" fill="#84110d"/>
<polygon points="448.2,1240.33 463.6,1240.33 455.9,1253.67" fill="#84110d"/>
<line x1="501.5" y1="1159.1" x2="536.6" y2="1159.1" stroke="#000" stroke-width="2.6" stroke-linecap="butt"/>
<circle cx="529.1" cy="1059.8" r="8" fill="#ec2630"/>
<circle cx="519.4" cy="1065.4" r="8" fill="#ec2630"/>
<circle cx="513.8" cy="1146.8" r="8" fill="#ec2630"/>
<circle cx="524.3" cy="1151" r="8" fill="#ec2630"/>
<circle cx="529.1" cy="1225.9" r="8" fill="#ec2630"/>
<circle cx="519.4" cy="1225.9" r="8" fill="#ec2630"/>
<circle cx="509.6" cy="1235.7" r="8" fill="#ec2630"/>
<line x1="555" y1="1225" x2="589.4" y2="1225" stroke="#000" stroke-width="2.6" stroke-linecap="butt"/>
<polygon points="575.2,1197.1 583.6,1205.5 575.2,1213.9 566.8,1205.5" fill="#838383"/>
<polygon points="568.3,1208.3 576.7,1216.7 568.3,1225.1 559.9,1216.7" fill="#838383"/>
<polygon points="561.3,1214.1 569.7,1222.5 561.3,1230.9 552.9,1222.5" fill="#838383"/>
<polygon points="582.1,1222.2 590.5,1230.6 582.1,1239 573.7,1230.6" fill="#838383"/>
<polygon points="575.2,1225.6 583.6,1234 575.2,1242.4 566.8,1234" fill="#838383"/>
<polygon points="562.5,1235.1 570.9,1243.5 562.5,1251.9 554.1,1243.5" fill="#838383"/>
<line x1="216.5" y1="885.95" x2="216.5" y2="1254.45" stroke="#000" stroke-width="2.5" stroke-linecap="butt"/>
<line x1="206.5" y1="887.2" x2="216.5" y2="887.2" stroke="#000" stroke-width="2.5" stroke-linecap="butt"/>
<line x1="206.5" y1="979" x2="216.5" y2="979" stroke="#000" stroke-width="2.5" stroke-linecap="butt"/>
<line x1="206.5" y1="1070.6" x2="216.5" y2="1070.6" stroke="#000" stroke-width="2.5" stroke-linecap="butt"/>
<line x1="206.5" y1="1161.7" x2="216.5" y2="1161.7" stroke="#000" stroke-width="2.5" stroke-linecap="butt"/>
<line x1="206.5" y1="1252.6" x2="216.5" y2="1252.6" stroke="#000" stroke-width="2.5" stroke-linecap="butt"/>
<line x1="206.5" y1="1253.2" x2="610.1" y2="1253.2" stroke="#000" stroke-width="2.5" stroke-linecap="butt"/>
<line x1="252.1" y1="1253.2" x2="252.1" y2="1263.2" stroke="#000" stroke-width="2.5" stroke-linecap="butt"/>
<line x1="304.8" y1="1253.2" x2="304.8" y2="1263.2" stroke="#000" stroke-width="2.5" stroke-linecap="butt"/>
<line x1="358.9" y1="1253.2" x2="358.9" y2="1263.2" stroke="#000" stroke-width="2.5" stroke-linecap="butt"/>
<line x1="412.1" y1="1253.2" x2="412.1" y2="1263.2" stroke="#000" stroke-width="2.5" stroke-linecap="butt"/>
<line x1="465.4" y1="1253.2" x2="465.4" y2="1263.2" stroke="#000" stroke-width="2.5" stroke-linecap="butt"/>
<line x1="518.6" y1="1253.2" x2="518.6" y2="1263.2" stroke="#000" stroke-width="2.5" stroke-linecap="butt"/>
<line x1="571.9" y1="1253.2" x2="571.9" y2="1263.2" stroke="#000" stroke-width="2.5" stroke-linecap="butt"/>
<text x="202.5" y="896.8" font-family='"Liberation Sans", Arial, Helvetica, sans-serif' font-size="26.3" font-weight="bold" text-anchor="end" transform="translate(202.5 896.8) scale(1 1.03) translate(-202.5 -896.8)">4</text>
<text x="202.5" y="988.6" font-family='"Liberation Sans", Arial, Helvetica, sans-serif' font-size="26.3" font-weight="bold" text-anchor="end" transform="translate(202.5 988.6) scale(1 1.03) translate(-202.5 -988.6)">3</text>
<text x="202.5" y="1080.2" font-family='"Liberation Sans", Arial, Helvetica, sans-serif' font-size="26.3" font-weight="bold" text-anchor="end" transform="translate(202.5 1080.2) scale(1 1.03) translate(-202.5 -1080.2)">2</text>
<text x="202.5" y="1171.3" font-family='"Liberation Sans", Arial, Helvetica, sans-serif' font-size="26.3" font-weight="bold" text-anchor="end" transform="translate(202.5 1171.3) scale(1 1.03) translate(-202.5 -1171.3)">1</text>
<text x="202.5" y="1262.2" font-family='"Liberation Sans", Arial, Helvetica, sans-serif' font-size="26.3" font-weight="bold" text-anchor="end" transform="translate(202.5 1262.2) scale(1 1.03) translate(-202.5 -1262.2)">0</text>
<text x="81.2" y="1067.2" font-family='"Liberation Sans", Arial, Helvetica, sans-serif' font-size="29.3" font-weight="bold" text-anchor="middle" transform="rotate(-90 81.2 1067.2)">H5-reactive splenic</text>
<text x="121.8" y="1067" font-family='"Liberation Sans", Arial, Helvetica, sans-serif' font-size="29.3" font-weight="bold" text-anchor="middle" transform="rotate(-90 121.8 1067)">polyfunctional CD8<tspan font-size="22" font-weight="bold" dy="-13.8">+</tspan><tspan dy="13.8">&#8203;</tspan> T cells</text>
<text x="161.8" y="1067.4" font-family='"Liberation Sans", Arial, Helvetica, sans-serif' font-size="29.3" font-weight="bold" text-anchor="middle" transform="rotate(-90 161.8 1067.4)">(% of CD8<tspan font-size="22" font-weight="bold" dy="-13.8">+</tspan><tspan dy="13.8">&#8203;</tspan>CD44<tspan font-size="22" font-weight="bold" dy="-13.8">+</tspan><tspan dy="13.8">&#8203;</tspan>)</text>
<text x="260.6" y="1287.2" font-family='"Liberation Sans", Arial, Helvetica, sans-serif' font-size="25.6" font-weight="bold" text-anchor="end" transform="rotate(-45 260.6 1287.2) translate(260.6 1287.2) scale(1 1.02) translate(-260.6 -1287.2)">IN/IN vector</text>
<text x="313.3" y="1287.2" font-family='"Liberation Sans", Arial, Helvetica, sans-serif' font-size="25.6" font-weight="bold" text-anchor="end" transform="rotate(-45 313.3 1287.2) translate(313.3 1287.2) scale(1 1.02) translate(-313.3 -1287.2)">IN/IN 1 µg</text>
<text x="367.4" y="1287.2" font-family='"Liberation Sans", Arial, Helvetica, sans-serif' font-size="25.6" font-weight="bold" text-anchor="end" transform="rotate(-45 367.4 1287.2) translate(367.4 1287.2) scale(1 1.02) translate(-367.4 -1287.2)">IN/IN 5 µg</text>
<text x="420.6" y="1287.2" font-family='"Liberation Sans", Arial, Helvetica, sans-serif' font-size="25.6" font-weight="bold" text-anchor="end" transform="rotate(-45 420.6 1287.2) translate(420.6 1287.2) scale(1 1.02) translate(-420.6 -1287.2)">IN/IN 10 µg</text>
<text x="473.9" y="1287.2" font-family='"Liberation Sans", Arial, Helvetica, sans-serif' font-size="25.6" font-weight="bold" text-anchor="end" transform="rotate(-45 473.9 1287.2) translate(473.9 1287.2) scale(1 1.02) translate(-473.9 -1287.2)">IM/IN 5 µg</text>
<text x="527.1" y="1287.2" font-family='"Liberation Sans", Arial, Helvetica, sans-serif' font-size="25.6" font-weight="bold" text-anchor="end" transform="rotate(-45 527.1 1287.2) translate(527.1 1287.2) scale(1 1.02) translate(-527.1 -1287.2)">IM/IM 5 µg</text>
<text x="580.4" y="1287.2" font-family='"Liberation Sans", Arial, Helvetica, sans-serif' font-size="25.6" font-weight="bold" text-anchor="end" transform="rotate(-45 580.4 1287.2) translate(580.4 1287.2) scale(1 1.02) translate(-580.4 -1287.2)">IM/IM Baxter</text>
<text x="770.6" y="773.5" font-family='"Liberation Sans", Arial, Helvetica, sans-serif' font-size="54" font-weight="bold" text-anchor="start" transform="translate(770.6 773.5) scale(1 1.04) translate(-770.6 -773.5)">E</text>
<polyline points="906,1224.3 906,983.1 1064,983.1 1064,1015.4" fill="none" stroke="#000" stroke-width="2.6" stroke-linejoin="miter"/>
<text x="985" y="979" font-family='"DejaVu Sans", "Liberation Sans", sans-serif' font-size="27.5" font-weight="bold" text-anchor="middle" letter-spacing="1.2">****</text>
<rect x="996.35" y="1232.3" width="33" height="20.9" fill="#e070fd" stroke="#000" stroke-width="2.6"/>
<rect x="1049.8" y="1107.9" width="33" height="145.3" fill="#d62afa" stroke="#000" stroke-width="2.6"/>
<rect x="1102.95" y="1214" width="33" height="39.2" fill="#84110d" stroke="#000" stroke-width="2.6"/>
<line x1="1012.9" y1="1186.7" x2="1012.9" y2="1231" stroke="#000" stroke-width="1.5" stroke-linecap="butt"/>
<line x1="1004.4" y1="1186.7" x2="1021.4" y2="1186.7" stroke="#000" stroke-width="1.5" stroke-linecap="butt"/>
<line x1="1066.3" y1="1036" x2="1066.3" y2="1176.3" stroke="#000" stroke-width="1.5" stroke-linecap="butt"/>
<line x1="1057.8" y1="1036" x2="1074.8" y2="1036" stroke="#000" stroke-width="1.5" stroke-linecap="butt"/>
<line x1="1057.8" y1="1176.3" x2="1074.8" y2="1176.3" stroke="#000" stroke-width="1.5" stroke-linecap="butt"/>
<line x1="1119.4" y1="1159" x2="1119.4" y2="1212.7" stroke="#000" stroke-width="1.5" stroke-linecap="butt"/>
<line x1="1110.9" y1="1159" x2="1127.9" y2="1159" stroke="#000" stroke-width="1.5" stroke-linecap="butt"/>
<circle cx="894" cy="1253.2" r="4.5" fill="#000000" stroke="#000" stroke-width="2.2" stroke-linejoin="miter"/>
<circle cx="898.8" cy="1253.2" r="4.5" fill="#000000" stroke="#000" stroke-width="2.2" stroke-linejoin="miter"/>
<circle cx="903.6" cy="1253.2" r="4.5" fill="#000000" stroke="#000" stroke-width="2.2" stroke-linejoin="miter"/>
<circle cx="908.4" cy="1253.2" r="4.5" fill="#000000" stroke="#000" stroke-width="2.2" stroke-linejoin="miter"/>
<circle cx="913.2" cy="1253.2" r="4.5" fill="#000000" stroke="#000" stroke-width="2.2" stroke-linejoin="miter"/>
<circle cx="918" cy="1253.2" r="4.5" fill="#000000" stroke="#000" stroke-width="2.2" stroke-linejoin="miter"/>
<circle cx="922.8" cy="1253.2" r="4.5" fill="#000000" stroke="#000" stroke-width="2.2" stroke-linejoin="miter"/>
<polygon points="948,1247.9 953.3,1253.2 948,1258.5 942.7,1253.2" fill="#f47cc8" stroke="#000" stroke-width="2.2" stroke-linejoin="miter"/>
<polygon points="952.8,1247.9 958.1,1253.2 952.8,1258.5 947.5,1253.2" fill="#f47cc8" stroke="#000" stroke-width="2.2" stroke-linejoin="miter"/>
<polygon points="957.6,1247.9 962.9,1253.2 957.6,1258.5 952.3,1253.2" fill="#f47cc8" stroke="#000" stroke-width="2.2" stroke-linejoin="miter"/>
<polygon points="962.4,1247.9 967.7,1253.2 962.4,1258.5 957.1,1253.2" fill="#f47cc8" stroke="#000" stroke-width="2.2" stroke-linejoin="miter"/>
<polygon points="967.2,1247.9 972.5,1253.2 967.2,1258.5 961.9,1253.2" fill="#f47cc8" stroke="#000" stroke-width="2.2" stroke-linejoin="miter"/>
<polygon points="972,1247.9 977.3,1253.2 972,1258.5 966.7,1253.2" fill="#f47cc8" stroke="#000" stroke-width="2.2" stroke-linejoin="miter"/>
<polygon points="976.8,1247.9 982.1,1253.2 976.8,1258.5 971.5,1253.2" fill="#f47cc8" stroke="#000" stroke-width="2.2" stroke-linejoin="miter"/>
<polygon points="1007.5,1146.1 1018.3,1146.1 1018.3,1156.9 1007.5,1156.9" fill="#e070fd" stroke="#000" stroke-width="2.4" stroke-linejoin="miter"/>
<polygon points="1007.5,1163.3 1018.3,1163.3 1018.3,1174.1 1007.5,1174.1" fill="#e070fd" stroke="#000" stroke-width="2.4" stroke-linejoin="miter"/>
<polygon points="995.9,1247.8 1006.7,1247.8 1006.7,1258.6 995.9,1258.6" fill="#e070fd" stroke="#000" stroke-width="2.4" stroke-linejoin="miter"/>
<polygon points="1008,1247.8 1018.8,1247.8 1018.8,1258.6 1008,1258.6" fill="#e070fd" stroke="#000" stroke-width="2.4" stroke-linejoin="miter"/>
<polygon points="1019.6,1247.8 1030.4,1247.8 1030.4,1258.6 1019.6,1258.6" fill="#e070fd" stroke="#000" stroke-width="2.4" stroke-linejoin="miter"/>
<polygon points="1060.9,1033 1063.6,1028.32 1069,1028.32 1071.7,1033 1069,1037.68 1063.6,1037.68" fill="#d62afa" stroke="#000" stroke-width="2.4" stroke-linejoin="miter"/>
<polygon points="1048.3,1060.3 1051,1055.62 1056.4,1055.62 1059.1,1060.3 1056.4,1064.98 1051,1064.98" fill="#d62afa" stroke="#000" stroke-width="2.4" stroke-linejoin="miter"/>
<polygon points="1073.5,1061.2 1076.2,1056.52 1081.6,1056.52 1084.3,1061.2 1081.6,1065.88 1076.2,1065.88" fill="#d62afa" stroke="#000" stroke-width="2.4" stroke-linejoin="miter"/>
<polygon points="1060.9,1068.7 1063.6,1064.02 1069,1064.02 1071.7,1068.7 1069,1073.38 1063.6,1073.38" fill="#d62afa" stroke="#000" stroke-width="2.4" stroke-linejoin="miter"/>
<polygon points="1060.9,1103.2 1063.6,1098.52 1069,1098.52 1071.7,1103.2 1069,1107.88 1063.6,1107.88" fill="#d62afa" stroke="#000" stroke-width="2.4" stroke-linejoin="miter"/>
<polygon points="1060.9,1127.6 1063.6,1122.92 1069,1122.92 1071.7,1127.6 1069,1132.28 1063.6,1132.28" fill="#d62afa" stroke="#000" stroke-width="2.4" stroke-linejoin="miter"/>
<polygon points="1060.9,1142.3 1063.6,1137.62 1069,1137.62 1071.7,1142.3 1069,1146.98 1063.6,1146.98" fill="#d62afa" stroke="#000" stroke-width="2.4" stroke-linejoin="miter"/>
<polygon points="1060.9,1253.2 1063.6,1248.52 1069,1248.52 1071.7,1253.2 1069,1257.88 1063.6,1257.88" fill="#d62afa" stroke="#000" stroke-width="2.4" stroke-linejoin="miter"/>
<polygon points="1100.2,1248.18 1111.8,1248.18 1106,1258.22" fill="#84110d" stroke="#000" stroke-width="2.4" stroke-linejoin="miter"/>
<polygon points="1105.4,1248.18 1117,1248.18 1111.2,1258.22" fill="#84110d" stroke="#000" stroke-width="2.4" stroke-linejoin="miter"/>
<polygon points="1110.6,1248.18 1122.2,1248.18 1116.4,1258.22" fill="#84110d" stroke="#000" stroke-width="2.4" stroke-linejoin="miter"/>
<polygon points="1115.8,1248.18 1127.4,1248.18 1121.6,1258.22" fill="#84110d" stroke="#000" stroke-width="2.4" stroke-linejoin="miter"/>
<polygon points="1121,1248.18 1132.6,1248.18 1126.8,1258.22" fill="#84110d" stroke="#000" stroke-width="2.4" stroke-linejoin="miter"/>
<polygon points="1126.2,1248.18 1137.8,1248.18 1132,1258.22" fill="#84110d" stroke="#000" stroke-width="2.4" stroke-linejoin="miter"/>
<polygon points="1113.4,1214.98 1125,1214.98 1119.2,1225.02" fill="#84110d" stroke="#000" stroke-width="2.4" stroke-linejoin="miter"/>
<polygon points="1113.4,1185.98 1125,1185.98 1119.2,1196.02" fill="#84110d" stroke="#000" stroke-width="2.4" stroke-linejoin="miter"/>
<polygon points="1113.4,1146.48 1125,1146.48 1119.2,1156.52" fill="#84110d" stroke="#000" stroke-width="2.4" stroke-linejoin="miter"/>
<polygon points="1113.4,1112.88 1125,1112.88 1119.2,1122.92" fill="#84110d" stroke="#000" stroke-width="2.4" stroke-linejoin="miter"/>
<circle cx="1160" cy="1253.2" r="5" fill="#ec2630" stroke="#000" stroke-width="2.4" stroke-linejoin="miter"/>
<circle cx="1164.7" cy="1253.2" r="5" fill="#ec2630" stroke="#000" stroke-width="2.4" stroke-linejoin="miter"/>
<circle cx="1169.4" cy="1253.2" r="5" fill="#ec2630" stroke="#000" stroke-width="2.4" stroke-linejoin="miter"/>
<circle cx="1174.1" cy="1253.2" r="5" fill="#ec2630" stroke="#000" stroke-width="2.4" stroke-linejoin="miter"/>
<circle cx="1178.8" cy="1253.2" r="5" fill="#ec2630" stroke="#000" stroke-width="2.4" stroke-linejoin="miter"/>
<circle cx="1183.5" cy="1253.2" r="5" fill="#ec2630" stroke="#000" stroke-width="2.4" stroke-linejoin="miter"/>
<circle cx="1188.2" cy="1253.2" r="5" fill="#ec2630" stroke="#000" stroke-width="2.4" stroke-linejoin="miter"/>
<circle cx="1172.3" cy="1240.2" r="5" fill="#ec2630" stroke="#000" stroke-width="2.4" stroke-linejoin="miter"/>
<polygon points="1213,1247.6 1218.6,1253.2 1213,1258.8 1207.4,1253.2" fill="#838383" stroke="#000" stroke-width="2.4" stroke-linejoin="miter"/>
<polygon points="1217.8,1247.6 1223.4,1253.2 1217.8,1258.8 1212.2,1253.2" fill="#838383" stroke="#000" stroke-width="2.4" stroke-linejoin="miter"/>
<polygon points="1222.6,1247.6 1228.2,1253.2 1222.6,1258.8 1217,1253.2" fill="#838383" stroke="#000" stroke-width="2.4" stroke-linejoin="miter"/>
<polygon points="1227.4,1247.6 1233,1253.2 1227.4,1258.8 1221.8,1253.2" fill="#838383" stroke="#000" stroke-width="2.4" stroke-linejoin="miter"/>
<polygon points="1232.2,1247.6 1237.8,1253.2 1232.2,1258.8 1226.6,1253.2" fill="#838383" stroke="#000" stroke-width="2.4" stroke-linejoin="miter"/>
<polygon points="1237,1247.6 1242.6,1253.2 1237,1258.8 1231.4,1253.2" fill="#838383" stroke="#000" stroke-width="2.4" stroke-linejoin="miter"/>
<polygon points="1241.8,1247.6 1247.4,1253.2 1241.8,1258.8 1236.2,1253.2" fill="#838383" stroke="#000" stroke-width="2.4" stroke-linejoin="miter"/>
<line x1="871.3" y1="886.55" x2="871.3" y2="1254.45" stroke="#000" stroke-width="2.5" stroke-linecap="butt"/>
<line x1="863.3" y1="887.8" x2="871.3" y2="887.8" stroke="#000" stroke-width="2.5" stroke-linecap="butt"/>
<line x1="863.3" y1="983.1" x2="871.3" y2="983.1" stroke="#000" stroke-width="2.5" stroke-linecap="butt"/>
<line x1="863.3" y1="1078.4" x2="871.3" y2="1078.4" stroke="#000" stroke-width="2.5" stroke-linecap="butt"/>
<line x1="863.3" y1="1173.2" x2="871.3" y2="1173.2" stroke="#000" stroke-width="2.5" stroke-linecap="butt"/>
<line x1="866.8" y1="935.4" x2="871.3" y2="935.4" stroke="#000" stroke-width="2.5" stroke-linecap="butt"/>
<line x1="866.8" y1="1030.8" x2="871.3" y2="1030.8" stroke="#000" stroke-width="2.5" stroke-linecap="butt"/>
<line x1="866.8" y1="1126" x2="871.3" y2="1126" stroke="#000" stroke-width="2.5" stroke-linecap="butt"/>
<line x1="866.8" y1="1220.5" x2="871.3" y2="1220.5" stroke="#000" stroke-width="2.5" stroke-linecap="butt"/>
<line x1="871.3" y1="1253.2" x2="1262.7" y2="1253.2" stroke="#000" stroke-width="2.5" stroke-linecap="butt"/>
<line x1="906.4" y1="1253.2" x2="906.4" y2="1265.2" stroke="#000" stroke-width="2.5" stroke-linecap="butt"/>
<line x1="959.7" y1="1253.2" x2="959.7" y2="1265.2" stroke="#000" stroke-width="2.5" stroke-linecap="butt"/>
<line x1="1013" y1="1253.2" x2="1013" y2="1265.2" stroke="#000" stroke-width="2.5" stroke-linecap="butt"/>
<line x1="1066.3" y1="1253.2" x2="1066.3" y2="1265.2" stroke="#000" stroke-width="2.5" stroke-linecap="butt"/>
<line x1="1119.6" y1="1253.2" x2="1119.6" y2="1265.2" stroke="#000" stroke-width="2.5" stroke-linecap="butt"/>
<line x1="1172.9" y1="1253.2" x2="1172.9" y2="1265.2" stroke="#000" stroke-width="2.5" stroke-linecap="butt"/>
<line x1="1226.2" y1="1253.2" x2="1226.2" y2="1265.2" stroke="#000" stroke-width="2.5" stroke-linecap="butt"/>
<text x="860" y="897.4" font-family='"Liberation Sans", Arial, Helvetica, sans-serif' font-size="26.3" font-weight="bold" text-anchor="end" transform="translate(860 897.4) scale(1 1.03) translate(-860 -897.4)">4</text>
<text x="860" y="992.7" font-family='"Liberation Sans", Arial, Helvetica, sans-serif' font-size="26.3" font-weight="bold" text-anchor="end" transform="translate(860 992.7) scale(1 1.03) translate(-860 -992.7)">3</text>
<text x="860" y="1088" font-family='"Liberation Sans", Arial, Helvetica, sans-serif' font-size="26.3" font-weight="bold" text-anchor="end" transform="translate(860 1088) scale(1 1.03) translate(-860 -1088)">2</text>
<text x="860" y="1182.8" font-family='"Liberation Sans", Arial, Helvetica, sans-serif' font-size="26.3" font-weight="bold" text-anchor="end" transform="translate(860 1182.8) scale(1 1.03) translate(-860 -1182.8)">1</text>
<text x="802.7" y="1068" font-family='"Liberation Sans", Arial, Helvetica, sans-serif' font-size="29.3" font-weight="bold" text-anchor="middle" transform="rotate(-90 802.7 1068)">H5-binding BAL IgA endpoint (log<tspan font-size="22.5" font-weight="normal" stroke="#000" stroke-width="0.55" dy="6.6">10</tspan><tspan dy="-6.6">&#8203;</tspan>)</text>
<text x="914.9" y="1287.2" font-family='"Liberation Sans", Arial, Helvetica, sans-serif' font-size="25.6" font-weight="bold" text-anchor="end" transform="rotate(-45 914.9 1287.2) translate(914.9 1287.2) scale(1 1.02) translate(-914.9 -1287.2)">IN/IN vector</text>
<text x="968.2" y="1287.2" font-family='"Liberation Sans", Arial, Helvetica, sans-serif' font-size="25.6" font-weight="bold" text-anchor="end" transform="rotate(-45 968.2 1287.2) translate(968.2 1287.2) scale(1 1.02) translate(-968.2 -1287.2)">IN/IN 1 µg</text>
<text x="1021.5" y="1287.2" font-family='"Liberation Sans", Arial, Helvetica, sans-serif' font-size="25.6" font-weight="bold" text-anchor="end" transform="rotate(-45 1021.5 1287.2) translate(1021.5 1287.2) scale(1 1.02) translate(-1021.5 -1287.2)">IN/IN 5 µg</text>
<text x="1074.8" y="1287.2" font-family='"Liberation Sans", Arial, Helvetica, sans-serif' font-size="25.6" font-weight="bold" text-anchor="end" transform="rotate(-45 1074.8 1287.2) translate(1074.8 1287.2) scale(1 1.02) translate(-1074.8 -1287.2)">IN/IN 10 µg</text>
<text x="1128.1" y="1287.2" font-family='"Liberation Sans", Arial, Helvetica, sans-serif' font-size="25.6" font-weight="bold" text-anchor="end" transform="rotate(-45 1128.1 1287.2) translate(1128.1 1287.2) scale(1 1.02) translate(-1128.1 -1287.2)">IM/IN 5 µg</text>
<text x="1181.4" y="1287.2" font-family='"Liberation Sans", Arial, Helvetica, sans-serif' font-size="25.6" font-weight="bold" text-anchor="end" transform="rotate(-45 1181.4 1287.2) translate(1181.4 1287.2) scale(1 1.02) translate(-1181.4 -1287.2)">IM/IM 5 µg</text>
<text x="1234.7" y="1287.2" font-family='"Liberation Sans", Arial, Helvetica, sans-serif' font-size="25.6" font-weight="bold" text-anchor="end" transform="rotate(-45 1234.7 1287.2) translate(1234.7 1287.2) scale(1 1.02) translate(-1234.7 -1287.2)">IM/IM Baxter</text>
<text x="1384.4" y="773.4" font-family='"Liberation Sans", Arial, Helvetica, sans-serif' font-size="54" font-weight="bold" text-anchor="start" transform="translate(1384.4 773.4) scale(1 1.04) translate(-1384.4 -773.4)">F</text>
<polyline points="1565.9,1138.2 1565.9,823.5 1687.4,823.5 1687.4,841.8" fill="none" stroke="#000" stroke-width="2.6" stroke-linejoin="miter"/>
<polyline points="1671.2,862.4 1671.2,841.8 1882.4,841.8 1882.4,862.4" fill="none" stroke="#000" stroke-width="2.6" stroke-linejoin="miter"/>
<line x1="1716.2" y1="841.8" x2="1716.2" y2="862.4" stroke="#000" stroke-width="2.6" stroke-linecap="butt"/>
<line x1="1771.8" y1="841.8" x2="1771.8" y2="862.4" stroke="#000" stroke-width="2.6" stroke-linecap="butt"/>
<line x1="1830" y1="841.8" x2="1830" y2="862.4" stroke="#000" stroke-width="2.6" stroke-linecap="butt"/>
<text x="1776.7" y="837" font-family='"DejaVu Sans", "Liberation Sans", sans-serif' font-size="27.5" font-weight="bold" text-anchor="middle" letter-spacing="1.2">****</text>
<text x="1777.2" y="885.9" font-family='"Liberation Sans", Arial, Helvetica, sans-serif' font-size="23.5" font-weight="normal" text-anchor="middle">ns</text>
<polyline points="1671.2,918.2 1671.2,898.5 1883.5,898.5 1883.5,918.2" fill="none" stroke="#000" stroke-width="2.6" stroke-linejoin="miter" stroke-dasharray="7.5 5.7"/>
<line x1="1722.6" y1="898.5" x2="1722.6" y2="918.2" stroke="#000" stroke-width="2.6" stroke-linecap="butt" stroke-dasharray="7.5 5.7"/>
<line x1="1777.6" y1="898.5" x2="1777.6" y2="918.2" stroke="#000" stroke-width="2.6" stroke-linecap="butt" stroke-dasharray="7.5 5.7"/>
<line x1="1830.6" y1="898.5" x2="1830.6" y2="918.2" stroke="#000" stroke-width="2.6" stroke-linecap="butt" stroke-dasharray="7.5 5.7"/>
<rect x="1550.25" y="1208.7" width="33" height="44.2" fill="#000000" stroke="#000" stroke-width="2.6"/>
<rect x="1603.4" y="1177.8" width="33" height="75.1" fill="#f47cc8" stroke="#000" stroke-width="2.6"/>
<rect x="1656.9" y="1036.6" width="33" height="216.3" fill="#e070fd" stroke="#000" stroke-width="2.6"/>
<rect x="1709.8" y="1020.4" width="33" height="232.5" fill="#d62afa" stroke="#000" stroke-width="2.6"/>
<rect x="1763.4" y="1032.2" width="33" height="220.7" fill="#84110d" stroke="#000" stroke-width="2.6"/>
<rect x="1816.45" y="1048.3" width="33" height="204.6" fill="#ec2630" stroke="#000" stroke-width="2.6"/>
<rect x="1869.8" y="1070.4" width="33" height="182.5" fill="#838383" stroke="#000" stroke-width="2.6"/>
<line x1="1566.2" y1="1188.2" x2="1566.2" y2="1252.9" stroke="#000" stroke-width="1.5" stroke-linecap="butt"/>
<line x1="1557.7" y1="1188.2" x2="1574.7" y2="1188.2" stroke="#000" stroke-width="1.5" stroke-linecap="butt"/>
<line x1="1557.7" y1="1252.9" x2="1574.7" y2="1252.9" stroke="#000" stroke-width="1.5" stroke-linecap="butt"/>
<line x1="1619.7" y1="1108.8" x2="1619.7" y2="1242.6" stroke="#000" stroke-width="1.5" stroke-linecap="butt"/>
<line x1="1611.2" y1="1108.8" x2="1628.2" y2="1108.8" stroke="#000" stroke-width="1.5" stroke-linecap="butt"/>
<line x1="1611.2" y1="1242.6" x2="1628.2" y2="1242.6" stroke="#000" stroke-width="1.5" stroke-linecap="butt"/>
<line x1="1673.2" y1="984.7" x2="1673.2" y2="1083.8" stroke="#000" stroke-width="1.5" stroke-linecap="butt"/>
<line x1="1664.7" y1="984.7" x2="1681.7" y2="984.7" stroke="#000" stroke-width="1.5" stroke-linecap="butt"/>
<line x1="1664.7" y1="1083.8" x2="1681.7" y2="1083.8" stroke="#000" stroke-width="1.5" stroke-linecap="butt"/>
<line x1="1726.5" y1="990.6" x2="1726.5" y2="1046.5" stroke="#000" stroke-width="1.5" stroke-linecap="butt"/>
<line x1="1718" y1="990.6" x2="1735" y2="990.6" stroke="#000" stroke-width="1.5" stroke-linecap="butt"/>
<line x1="1718" y1="1046.5" x2="1735" y2="1046.5" stroke="#000" stroke-width="1.5" stroke-linecap="butt"/>
<line x1="1779.4" y1="994.1" x2="1779.4" y2="1066.2" stroke="#000" stroke-width="1.5" stroke-linecap="butt"/>
<line x1="1770.9" y1="994.1" x2="1787.9" y2="994.1" stroke="#000" stroke-width="1.5" stroke-linecap="butt"/>
<line x1="1770.9" y1="1066.2" x2="1787.9" y2="1066.2" stroke="#000" stroke-width="1.5" stroke-linecap="butt"/>
<line x1="1832.4" y1="992" x2="1832.4" y2="1100.9" stroke="#000" stroke-width="1.5" stroke-linecap="butt"/>
<line x1="1823.9" y1="992" x2="1840.9" y2="992" stroke="#000" stroke-width="1.5" stroke-linecap="butt"/>
<line x1="1823.9" y1="1100.9" x2="1840.9" y2="1100.9" stroke="#000" stroke-width="1.5" stroke-linecap="butt"/>
<line x1="1885.9" y1="1025.9" x2="1885.9" y2="1111.2" stroke="#000" stroke-width="1.5" stroke-linecap="butt"/>
<line x1="1877.4" y1="1025.9" x2="1894.4" y2="1025.9" stroke="#000" stroke-width="1.5" stroke-linecap="butt"/>
<line x1="1877.4" y1="1111.2" x2="1894.4" y2="1111.2" stroke="#000" stroke-width="1.5" stroke-linecap="butt"/>
<circle cx="1566.2" cy="1172" r="5" fill="#000000" stroke="#000" stroke-width="2.2" stroke-linejoin="miter"/>
<circle cx="1566.2" cy="1202.4" r="5" fill="#000000" stroke="#000" stroke-width="2.2" stroke-linejoin="miter"/>
<polygon points="1619.7,1049.9 1625.1,1055.3 1619.7,1060.7 1614.3,1055.3" fill="#f47cc8" stroke="#000" stroke-width="2.2" stroke-linejoin="miter"/>
<polygon points="1619.7,1091.1 1625.1,1096.5 1619.7,1101.9 1614.3,1096.5" fill="#f47cc8" stroke="#000" stroke-width="2.2" stroke-linejoin="miter"/>
<polygon points="1613.8,1174.6 1619.2,1180 1613.8,1185.4 1608.4,1180" fill="#f47cc8" stroke="#000" stroke-width="2.2" stroke-linejoin="miter"/>
<polygon points="1626.5,1168.7 1631.9,1174.1 1626.5,1179.5 1621.1,1174.1" fill="#f47cc8" stroke="#000" stroke-width="2.2" stroke-linejoin="miter"/>
<polygon points="1607,1211.6 1612.4,1217 1607,1222.4 1601.6,1217" fill="#f47cc8" stroke="#000" stroke-width="2.2" stroke-linejoin="miter"/>
<polygon points="1619.7,1213.7 1625.1,1219.1 1619.7,1224.5 1614.3,1219.1" fill="#f47cc8" stroke="#000" stroke-width="2.2" stroke-linejoin="miter"/>
<polygon points="1633,1212.8 1638.4,1218.2 1633,1223.6 1627.6,1218.2" fill="#f47cc8" stroke="#000" stroke-width="2.2" stroke-linejoin="miter"/>
<polygon points="1619.7,1242.2 1625.1,1247.6 1619.7,1253 1614.3,1247.6" fill="#f47cc8" stroke="#000" stroke-width="2.2" stroke-linejoin="miter"/>
<polygon points="1668.6,942.7 1678.4,942.7 1678.4,952.5 1668.6,952.5" fill="#e070fd" stroke="#000" stroke-width="2.2" stroke-linejoin="miter"/>
<polygon points="1668.6,1001.9 1678.4,1001.9 1678.4,1011.7 1668.6,1011.7" fill="#e070fd" stroke="#000" stroke-width="2.2" stroke-linejoin="miter"/>
<polygon points="1656,1016.3 1665.8,1016.3 1665.8,1026.1 1656,1026.1" fill="#e070fd" stroke="#000" stroke-width="2.2" stroke-linejoin="miter"/>
<polygon points="1668.6,1017.1 1678.4,1017.1 1678.4,1026.9 1668.6,1026.9" fill="#e070fd" stroke="#000" stroke-width="2.2" stroke-linejoin="miter"/>
<polygon points="1681.6,1014.2 1691.4,1014.2 1691.4,1024 1681.6,1024" fill="#e070fd" stroke="#000" stroke-width="2.2" stroke-linejoin="miter"/>
<polygon points="1661.9,1071.6 1671.7,1071.6 1671.7,1081.4 1661.9,1081.4" fill="#e070fd" stroke="#000" stroke-width="2.2" stroke-linejoin="miter"/>
<polygon points="1674.5,1071.6 1684.3,1071.6 1684.3,1081.4 1674.5,1081.4" fill="#e070fd" stroke="#000" stroke-width="2.2" stroke-linejoin="miter"/>
<polygon points="1668.6,1101.6 1678.4,1101.6 1678.4,1111.4 1668.6,1111.4" fill="#e070fd" stroke="#000" stroke-width="2.2" stroke-linejoin="miter"/>
<polygon points="1708.3,990.6 1711.05,985.84 1716.55,985.84 1719.3,990.6 1716.55,995.36 1711.05,995.36" fill="#d62afa" stroke="#000" stroke-width="2.2" stroke-linejoin="miter"/>
<polygon points="1733.9,985.3 1736.65,980.54 1742.15,980.54 1744.9,985.3 1742.15,990.06 1736.65,990.06" fill="#d62afa" stroke="#000" stroke-width="2.2" stroke-linejoin="miter"/>
<polygon points="1708.3,1001.5 1711.05,996.74 1716.55,996.74 1719.3,1001.5 1716.55,1006.26 1711.05,1006.26" fill="#d62afa" stroke="#000" stroke-width="2.2" stroke-linejoin="miter"/>
<polygon points="1733.3,1000.6 1736.05,995.84 1741.55,995.84 1744.3,1000.6 1741.55,1005.36 1736.05,1005.36" fill="#d62afa" stroke="#000" stroke-width="2.2" stroke-linejoin="miter"/>
<polygon points="1708.9,1033.8 1711.65,1029.04 1717.15,1029.04 1719.9,1033.8 1717.15,1038.56 1711.65,1038.56" fill="#d62afa" stroke="#000" stroke-width="2.2" stroke-linejoin="miter"/>
<polygon points="1733.9,1025.9 1736.65,1021.14 1742.15,1021.14 1744.9,1025.9 1742.15,1030.66 1736.65,1030.66" fill="#d62afa" stroke="#000" stroke-width="2.2" stroke-linejoin="miter"/>
<polygon points="1721.5,1047 1724.25,1042.24 1729.75,1042.24 1732.5,1047 1729.75,1051.76 1724.25,1051.76" fill="#d62afa" stroke="#000" stroke-width="2.2" stroke-linejoin="miter"/>
<polygon points="1721.5,1061.8 1724.25,1057.04 1729.75,1057.04 1732.5,1061.8 1729.75,1066.56 1724.25,1066.56" fill="#d62afa" stroke="#000" stroke-width="2.2" stroke-linejoin="miter"/>
<polygon points="1762,992.25 1773.2,992.25 1767.6,1001.95" fill="#84110d" stroke="#000" stroke-width="2.2" stroke-linejoin="miter"/>
<polygon points="1786.8,983.35 1798,983.35 1792.4,993.05" fill="#84110d" stroke="#000" stroke-width="2.2" stroke-linejoin="miter"/>
<polygon points="1786.8,996.65 1798,996.65 1792.4,1006.35" fill="#84110d" stroke="#000" stroke-width="2.2" stroke-linejoin="miter"/>
<polygon points="1762,1006.95 1773.2,1006.95 1767.6,1016.65" fill="#84110d" stroke="#000" stroke-width="2.2" stroke-linejoin="miter"/>
<polygon points="1786.8,1014.25 1798,1014.25 1792.4,1023.95" fill="#84110d" stroke="#000" stroke-width="2.2" stroke-linejoin="miter"/>
<polygon points="1762,1058.35 1773.2,1058.35 1767.6,1068.05" fill="#84110d" stroke="#000" stroke-width="2.2" stroke-linejoin="miter"/>
<polygon points="1786.8,1059.85 1798,1059.85 1792.4,1069.55" fill="#84110d" stroke="#000" stroke-width="2.2" stroke-linejoin="miter"/>
<polygon points="1773.8,1077.55 1785,1077.55 1779.4,1087.25" fill="#84110d" stroke="#000" stroke-width="2.2" stroke-linejoin="miter"/>
<circle cx="1832.4" cy="970" r="5.3" fill="#ec2630" stroke="#000" stroke-width="2.2" stroke-linejoin="miter"/>
<circle cx="1820.6" cy="1018.2" r="5.3" fill="#ec2630" stroke="#000" stroke-width="2.2" stroke-linejoin="miter"/>
<circle cx="1828.5" cy="1021.2" r="5.3" fill="#ec2630" stroke="#000" stroke-width="2.2" stroke-linejoin="miter"/>
<circle cx="1837.4" cy="1025.9" r="5.3" fill="#ec2630" stroke="#000" stroke-width="2.2" stroke-linejoin="miter"/>
<circle cx="1845.3" cy="1016.2" r="5.3" fill="#ec2630" stroke="#000" stroke-width="2.2" stroke-linejoin="miter"/>
<circle cx="1828.5" cy="1089.7" r="5.3" fill="#ec2630" stroke="#000" stroke-width="2.2" stroke-linejoin="miter"/>
<circle cx="1837.4" cy="1098.5" r="5.3" fill="#ec2630" stroke="#000" stroke-width="2.2" stroke-linejoin="miter"/>
<circle cx="1832.4" cy="1134.7" r="5.3" fill="#ec2630" stroke="#000" stroke-width="2.2" stroke-linejoin="miter"/>
<polygon points="1874.1,1020.9 1879.7,1026.5 1874.1,1032.1 1868.5,1026.5" fill="#838383" stroke="#000" stroke-width="2.2" stroke-linejoin="miter"/>
<polygon points="1899.1,1020.9 1904.7,1026.5 1899.1,1032.1 1893.5,1026.5" fill="#838383" stroke="#000" stroke-width="2.2" stroke-linejoin="miter"/>
<polygon points="1885.9,1061.5 1891.5,1067.1 1885.9,1072.7 1880.3,1067.1" fill="#838383" stroke="#000" stroke-width="2.2" stroke-linejoin="miter"/>
<polygon points="1885.9,1100.3 1891.5,1105.9 1885.9,1111.5 1880.3,1105.9" fill="#838383" stroke="#000" stroke-width="2.2" stroke-linejoin="miter"/>
<polygon points="1885.9,1111.4 1891.5,1117 1885.9,1122.6 1880.3,1117" fill="#838383" stroke="#000" stroke-width="2.2" stroke-linejoin="miter"/>
<line x1="1531.6" y1="886.15" x2="1531.6" y2="1254.15" stroke="#000" stroke-width="2.5" stroke-linecap="butt"/>
<line x1="1523.6" y1="887.4" x2="1531.6" y2="887.4" stroke="#000" stroke-width="2.5" stroke-linecap="butt"/>
<line x1="1523.6" y1="979.4" x2="1531.6" y2="979.4" stroke="#000" stroke-width="2.5" stroke-linecap="butt"/>
<line x1="1523.6" y1="1071.2" x2="1531.6" y2="1071.2" stroke="#000" stroke-width="2.5" stroke-linecap="butt"/>
<line x1="1523.6" y1="1162.4" x2="1531.6" y2="1162.4" stroke="#000" stroke-width="2.5" stroke-linecap="butt"/>
<line x1="1523.6" y1="1252.9" x2="1531.6" y2="1252.9" stroke="#000" stroke-width="2.5" stroke-linecap="butt"/>
<line x1="1527.1" y1="933.4" x2="1531.6" y2="933.4" stroke="#000" stroke-width="2.5" stroke-linecap="butt"/>
<line x1="1527.1" y1="1025.3" x2="1531.6" y2="1025.3" stroke="#000" stroke-width="2.5" stroke-linecap="butt"/>
<line x1="1527.1" y1="1116.8" x2="1531.6" y2="1116.8" stroke="#000" stroke-width="2.5" stroke-linecap="butt"/>
<line x1="1527.1" y1="1207.6" x2="1531.6" y2="1207.6" stroke="#000" stroke-width="2.5" stroke-linecap="butt"/>
<line x1="1531.5" y1="1252.9" x2="1923" y2="1252.9" stroke="#000" stroke-width="2.5" stroke-linecap="butt"/>
<line x1="1566.2" y1="1252.9" x2="1566.2" y2="1264.9" stroke="#000" stroke-width="2.5" stroke-linecap="butt"/>
<line x1="1619.7" y1="1252.9" x2="1619.7" y2="1264.9" stroke="#000" stroke-width="2.5" stroke-linecap="butt"/>
<line x1="1673.2" y1="1252.9" x2="1673.2" y2="1264.9" stroke="#000" stroke-width="2.5" stroke-linecap="butt"/>
<line x1="1726.5" y1="1252.9" x2="1726.5" y2="1264.9" stroke="#000" stroke-width="2.5" stroke-linecap="butt"/>
<line x1="1779.4" y1="1252.9" x2="1779.4" y2="1264.9" stroke="#000" stroke-width="2.5" stroke-linecap="butt"/>
<line x1="1832.4" y1="1252.9" x2="1832.4" y2="1264.9" stroke="#000" stroke-width="2.5" stroke-linecap="butt"/>
<line x1="1885.9" y1="1252.9" x2="1885.9" y2="1264.9" stroke="#000" stroke-width="2.5" stroke-linecap="butt"/>
<text x="1520" y="897" font-family='"Liberation Sans", Arial, Helvetica, sans-serif' font-size="26.3" font-weight="bold" text-anchor="end" transform="translate(1520 897) scale(1 1.03) translate(-1520 -897)">4</text>
<text x="1520" y="989" font-family='"Liberation Sans", Arial, Helvetica, sans-serif' font-size="26.3" font-weight="bold" text-anchor="end" transform="translate(1520 989) scale(1 1.03) translate(-1520 -989)">3</text>
<text x="1520" y="1080.8" font-family='"Liberation Sans", Arial, Helvetica, sans-serif' font-size="26.3" font-weight="bold" text-anchor="end" transform="translate(1520 1080.8) scale(1 1.03) translate(-1520 -1080.8)">2</text>
<text x="1520" y="1172" font-family='"Liberation Sans", Arial, Helvetica, sans-serif' font-size="26.3" font-weight="bold" text-anchor="end" transform="translate(1520 1172) scale(1 1.03) translate(-1520 -1172)">1</text>
<text x="1520" y="1262.5" font-family='"Liberation Sans", Arial, Helvetica, sans-serif' font-size="26.3" font-weight="bold" text-anchor="end" transform="translate(1520 1262.5) scale(1 1.03) translate(-1520 -1262.5)">0</text>
<text x="1462.7" y="1068" font-family='"Liberation Sans", Arial, Helvetica, sans-serif' font-size="29.3" font-weight="bold" text-anchor="middle" transform="rotate(-90 1462.7 1068)">H5-binding BAL IgG endpoint (log<tspan font-size="22.5" font-weight="normal" stroke="#000" stroke-width="0.55" dy="6.6">10</tspan><tspan dy="-6.6">&#8203;</tspan>)</text>
<text x="1574.7" y="1286.9" font-family='"Liberation Sans", Arial, Helvetica, sans-serif' font-size="25.6" font-weight="bold" text-anchor="end" transform="rotate(-45 1574.7 1286.9) translate(1574.7 1286.9) scale(1 1.02) translate(-1574.7 -1286.9)">IN/IN vector</text>
<text x="1628.2" y="1286.9" font-family='"Liberation Sans", Arial, Helvetica, sans-serif' font-size="25.6" font-weight="bold" text-anchor="end" transform="rotate(-45 1628.2 1286.9) translate(1628.2 1286.9) scale(1 1.02) translate(-1628.2 -1286.9)">IN/IN 1 µg</text>
<text x="1681.7" y="1286.9" font-family='"Liberation Sans", Arial, Helvetica, sans-serif' font-size="25.6" font-weight="bold" text-anchor="end" transform="rotate(-45 1681.7 1286.9) translate(1681.7 1286.9) scale(1 1.02) translate(-1681.7 -1286.9)">IN/IN 5 µg</text>
<text x="1735" y="1286.9" font-family='"Liberation Sans", Arial, Helvetica, sans-serif' font-size="25.6" font-weight="bold" text-anchor="end" transform="rotate(-45 1735 1286.9) translate(1735 1286.9) scale(1 1.02) translate(-1735 -1286.9)">IN/IN 10 µg</text>
<text x="1787.9" y="1286.9" font-family='"Liberation Sans", Arial, Helvetica, sans-serif' font-size="25.6" font-weight="bold" text-anchor="end" transform="rotate(-45 1787.9 1286.9) translate(1787.9 1286.9) scale(1 1.02) translate(-1787.9 -1286.9)">IM/IN 5 µg</text>
<text x="1840.9" y="1286.9" font-family='"Liberation Sans", Arial, Helvetica, sans-serif' font-size="25.6" font-weight="bold" text-anchor="end" transform="rotate(-45 1840.9 1286.9) translate(1840.9 1286.9) scale(1 1.02) translate(-1840.9 -1286.9)">IM/IM 5 µg</text>
<text x="1894.4" y="1286.9" font-family='"Liberation Sans", Arial, Helvetica, sans-serif' font-size="25.6" font-weight="bold" text-anchor="end" transform="rotate(-45 1894.4 1286.9) translate(1894.4 1286.9) scale(1 1.02) translate(-1894.4 -1286.9)">IM/IM Baxter</text>
<text x="17.2" y="1494.9" font-family='"Liberation Sans", Arial, Helvetica, sans-serif' font-size="54" font-weight="bold" text-anchor="start" transform="translate(17.2 1494.9) scale(1 1.04) translate(-17.2 -1494.9)">G</text>
<line x1="217.3" y1="1541.65" x2="217.3" y2="1612.3" stroke="#000" stroke-width="2.5" stroke-linecap="butt"/>
<line x1="206.2" y1="1542.9" x2="217.3" y2="1542.9" stroke="#000" stroke-width="2.5" stroke-linecap="butt"/>
<line x1="206.2" y1="1571" x2="217.3" y2="1571" stroke="#000" stroke-width="2.5" stroke-linecap="butt"/>
<line x1="206.2" y1="1598.7" x2="217.3" y2="1598.7" stroke="#000" stroke-width="2.5" stroke-linecap="butt"/>
<line x1="210.5" y1="1607" x2="224.1" y2="1619.9" stroke="#000" stroke-width="2.5" stroke-linecap="butt"/>
<line x1="210.5" y1="1624.5" x2="224.1" y2="1637" stroke="#000" stroke-width="2.5" stroke-linecap="butt"/>
<line x1="217.3" y1="1631.7" x2="217.3" y2="1909.25" stroke="#000" stroke-width="2.5" stroke-linecap="butt"/>
<line x1="206.2" y1="1770.2" x2="217.3" y2="1770.2" stroke="#000" stroke-width="2.5" stroke-linecap="butt"/>
<line x1="206.2" y1="1908" x2="610" y2="1908" stroke="#000" stroke-width="2.5" stroke-linecap="butt"/>
<line x1="251.4" y1="1908" x2="251.4" y2="1918" stroke="#000" stroke-width="2.5" stroke-linecap="butt"/>
<line x1="305.4" y1="1908" x2="305.4" y2="1918" stroke="#000" stroke-width="2.5" stroke-linecap="butt"/>
<line x1="358.8" y1="1908" x2="358.8" y2="1918" stroke="#000" stroke-width="2.5" stroke-linecap="butt"/>
<line x1="412.6" y1="1908" x2="412.6" y2="1918" stroke="#000" stroke-width="2.5" stroke-linecap="butt"/>
<line x1="465.6" y1="1908" x2="465.6" y2="1918" stroke="#000" stroke-width="2.5" stroke-linecap="butt"/>
<line x1="518.7" y1="1908" x2="518.7" y2="1918" stroke="#000" stroke-width="2.5" stroke-linecap="butt"/>
<line x1="572.1" y1="1908" x2="572.1" y2="1918" stroke="#000" stroke-width="2.5" stroke-linecap="butt"/>
<text x="204" y="1552.7" font-family='"Liberation Sans", Arial, Helvetica, sans-serif' font-size="26.3" font-weight="bold" text-anchor="end" transform="translate(204 1552.7) scale(1 1.03) translate(-204 -1552.7)">4.0</text>
<text x="204" y="1580.8" font-family='"Liberation Sans", Arial, Helvetica, sans-serif' font-size="26.3" font-weight="bold" text-anchor="end" transform="translate(204 1580.8) scale(1 1.03) translate(-204 -1580.8)">3.0</text>
<text x="204" y="1608.5" font-family='"Liberation Sans", Arial, Helvetica, sans-serif' font-size="26.3" font-weight="bold" text-anchor="end" transform="translate(204 1608.5) scale(1 1.03) translate(-204 -1608.5)">2.0</text>
<text x="204" y="1642.1" font-family='"Liberation Sans", Arial, Helvetica, sans-serif' font-size="26.3" font-weight="bold" text-anchor="end" transform="translate(204 1642.1) scale(1 1.03) translate(-204 -1642.1)">1.0</text>
<text x="204" y="1780" font-family='"Liberation Sans", Arial, Helvetica, sans-serif' font-size="26.3" font-weight="bold" text-anchor="end" transform="translate(204 1780) scale(1 1.03) translate(-204 -1780)">0.5</text>
<text x="204" y="1917.8" font-family='"Liberation Sans", Arial, Helvetica, sans-serif' font-size="26.3" font-weight="bold" text-anchor="end" transform="translate(204 1917.8) scale(1 1.03) translate(-204 -1917.8)">0.0</text>
<circle cx="244" cy="1907" r="7.8" fill="#000000"/>
<circle cx="247.5" cy="1902.5" r="7.8" fill="#000000"/>
<circle cx="253" cy="1905" r="7.8" fill="#000000"/>
<circle cx="258" cy="1904" r="7.8" fill="#000000"/>
<circle cx="262" cy="1907" r="7.8" fill="#000000"/>
<polygon points="297,1899.8 305.2,1908 297,1916.2 288.8,1908" fill="#f47cc8"/>
<polygon points="300.2,1899.8 308.4,1908 300.2,1916.2 292,1908" fill="#f47cc8"/>
<polygon points="303.4,1899.8 311.6,1908 303.4,1916.2 295.2,1908" fill="#f47cc8"/>
<polygon points="306.6,1899.8 314.8,1908 306.6,1916.2 298.4,1908" fill="#f47cc8"/>
<polygon points="309.8,1899.8 318,1908 309.8,1916.2 301.6,1908" fill="#f47cc8"/>
<polygon points="313,1899.8 321.2,1908 313,1916.2 304.8,1908" fill="#f47cc8"/>
<polygon points="316.2,1899.8 324.4,1908 316.2,1916.2 308,1908" fill="#f47cc8"/>
<polygon points="340,1885 356,1885 356,1901 340,1901" fill="#e070fd"/>
<polygon points="348,1885 364,1885 364,1901 348,1901" fill="#e070fd"/>
<polygon points="356,1889 372,1889 372,1905 356,1905" fill="#e070fd"/>
<polygon points="362,1895 378,1895 378,1911 362,1911" fill="#e070fd"/>
<polygon points="340,1895 356,1895 356,1911 340,1911" fill="#e070fd"/>
<polygon points="350,1895 366,1895 366,1911 350,1911" fill="#e070fd"/>
<polygon points="360,1898 376,1898 376,1914 360,1914" fill="#e070fd"/>
<polygon points="344,1892 360,1892 360,1908 344,1908" fill="#e070fd"/>
<line x1="394.7" y1="1830.5" x2="430.5" y2="1830.5" stroke="#000" stroke-width="2.6" stroke-linecap="butt"/>
<polygon points="404.8,1695.7 408.7,1688.95 416.5,1688.95 420.4,1695.7 416.5,1702.45 408.7,1702.45" fill="#d62afa"/>
<polygon points="404.8,1737 408.7,1730.25 416.5,1730.25 420.4,1737 416.5,1743.75 408.7,1743.75" fill="#d62afa"/>
<polygon points="404.8,1797.9 408.7,1791.15 416.5,1791.15 420.4,1797.9 416.5,1804.65 408.7,1804.65" fill="#d62afa"/>
<polygon points="404.8,1829.2 408.7,1822.45 416.5,1822.45 420.4,1829.2 416.5,1835.95 408.7,1835.95" fill="#d62afa"/>
<polygon points="404.8,1859.1 408.7,1852.35 416.5,1852.35 420.4,1859.1 416.5,1865.85 408.7,1865.85" fill="#d62afa"/>
<polygon points="395.2,1908 399.1,1901.25 406.9,1901.25 410.8,1908 406.9,1914.75 399.1,1914.75" fill="#d62afa"/>
<polygon points="404.8,1906 408.7,1899.25 416.5,1899.25 420.4,1906 416.5,1912.75 408.7,1912.75" fill="#d62afa"/>
<polygon points="414.2,1908 418.1,1901.25 425.9,1901.25 429.8,1908 425.9,1914.75 418.1,1914.75" fill="#d62afa"/>
<line x1="448.7" y1="1789.1" x2="483.6" y2="1789.1" stroke="#000" stroke-width="2.6" stroke-linecap="butt"/>
<polygon points="457.9,1562.63 473.3,1562.63 465.6,1575.97" fill="#84110d"/>
<polygon points="457.9,1823.83 473.3,1823.83 465.6,1837.17" fill="#84110d"/>
<polygon points="457.9,1870.33 473.3,1870.33 465.6,1883.67" fill="#84110d"/>
<polygon points="453.1,1892.33 468.5,1892.33 460.8,1905.67" fill="#84110d"/>
<polygon points="444.8,1899.33 460.2,1899.33 452.5,1912.67" fill="#84110d"/>
<polygon points="457.9,1899.33 473.3,1899.33 465.6,1912.67" fill="#84110d"/>
<polygon points="464.3,1898.33 479.7,1898.33 472,1911.67" fill="#84110d"/>
<polygon points="470.3,1900.33 485.7,1900.33 478,1913.67" fill="#84110d"/>
<circle cx="511.2" cy="1893.3" r="8" fill="#ec2630"/>
<circle cx="506" cy="1908" r="8" fill="#ec2630"/>
<circle cx="514" cy="1908" r="8" fill="#ec2630"/>
<circle cx="522" cy="1908" r="8" fill="#ec2630"/>
<circle cx="530" cy="1908" r="8" fill="#ec2630"/>
<circle cx="517" cy="1904" r="8" fill="#ec2630"/>
<polygon points="563.5,1899.6 571.9,1908 563.5,1916.4 555.1,1908" fill="#838383"/>
<polygon points="567.3,1897.6 575.7,1906 567.3,1914.4 558.9,1906" fill="#838383"/>
<polygon points="571.1,1899.6 579.5,1908 571.1,1916.4 562.7,1908" fill="#838383"/>
<polygon points="574.9,1899.6 583.3,1908 574.9,1916.4 566.5,1908" fill="#838383"/>
<polygon points="578.7,1899.6 587.1,1908 578.7,1916.4 570.3,1908" fill="#838383"/>
<polygon points="582.5,1899.6 590.9,1908 582.5,1916.4 574.1,1908" fill="#838383"/>
<text x="60.5" y="1722" font-family='"Liberation Sans", Arial, Helvetica, sans-serif' font-size="29.3" font-weight="bold" text-anchor="middle" transform="rotate(-90 60.5 1722)">H5-reactive lung-resident</text>
<text x="100.4" y="1722.6" font-family='"Liberation Sans", Arial, Helvetica, sans-serif' font-size="29.3" font-weight="bold" text-anchor="middle" transform="rotate(-90 100.4 1722.6)">polyfunctional CD8<tspan font-size="22" font-weight="bold" dy="-13.8">+</tspan><tspan dy="13.8">&#8203;</tspan> T cells</text>
<text x="141" y="1722" font-family='"Liberation Sans", Arial, Helvetica, sans-serif' font-size="29.3" font-weight="bold" text-anchor="middle" transform="rotate(-90 141 1722)">(% of CD8<tspan font-size="22" font-weight="bold" dy="-13.8">+</tspan><tspan dy="13.8">&#8203;</tspan>CD44<tspan font-size="22" font-weight="bold" dy="-13.8">+</tspan><tspan dy="13.8">&#8203;</tspan> cells)</text>
<text x="259.9" y="1942" font-family='"Liberation Sans", Arial, Helvetica, sans-serif' font-size="25.6" font-weight="bold" text-anchor="end" transform="rotate(-45 259.9 1942) translate(259.9 1942) scale(1 1.02) translate(-259.9 -1942)">IN/IN vector</text>
<text x="313.9" y="1942" font-family='"Liberation Sans", Arial, Helvetica, sans-serif' font-size="25.6" font-weight="bold" text-anchor="end" transform="rotate(-45 313.9 1942) translate(313.9 1942) scale(1 1.02) translate(-313.9 -1942)">IN/IN 1 µg</text>
<text x="367.3" y="1942" font-family='"Liberation Sans", Arial, Helvetica, sans-serif' font-size="25.6" font-weight="bold" text-anchor="end" transform="rotate(-45 367.3 1942) translate(367.3 1942) scale(1 1.02) translate(-367.3 -1942)">IN/IN 5 µg</text>
<text x="421.1" y="1942" font-family='"Liberation Sans", Arial, Helvetica, sans-serif' font-size="25.6" font-weight="bold" text-anchor="end" transform="rotate(-45 421.1 1942) translate(421.1 1942) scale(1 1.02) translate(-421.1 -1942)">IN/IN 10 µg</text>
<text x="474.1" y="1942" font-family='"Liberation Sans", Arial, Helvetica, sans-serif' font-size="25.6" font-weight="bold" text-anchor="end" transform="rotate(-45 474.1 1942) translate(474.1 1942) scale(1 1.02) translate(-474.1 -1942)">IM/IN 5 µg</text>
<text x="527.2" y="1942" font-family='"Liberation Sans", Arial, Helvetica, sans-serif' font-size="25.6" font-weight="bold" text-anchor="end" transform="rotate(-45 527.2 1942) translate(527.2 1942) scale(1 1.02) translate(-527.2 -1942)">IM/IM 5 µg</text>
<text x="580.6" y="1942" font-family='"Liberation Sans", Arial, Helvetica, sans-serif' font-size="25.6" font-weight="bold" text-anchor="end" transform="rotate(-45 580.6 1942) translate(580.6 1942) scale(1 1.02) translate(-580.6 -1942)">IM/IM Baxter</text>
<text x="15.7" y="44" font-family='"Liberation Sans", Arial, Helvetica, sans-serif' font-size="54" font-weight="bold" text-anchor="start" transform="translate(15.7 44) scale(1 1.04) translate(-15.7 -44)">A</text>
<g transform="translate(125.1 240.4) rotate(-18.8)">
<path d="M -0.4 0 L 0.4 0 L 3.0 -38 L -3.0 -38 Z" fill="#c3ecf3" stroke="#8fb8c4" stroke-width="0.6"/>
<path d="M -3.2 -38 L 3.2 -38 L 3.5 -44.5 L -3.5 -44.5 Z" fill="#a9cde6" stroke="#86a8c0" stroke-width="0.6"/>
<path d="M -3.5 -44.5 L 3.5 -44.5 L 4.4 -77 L -4.4 -77 Z" fill="#eef0fa" stroke="#8c90ad" stroke-width="0.7"/>
<path d="M -5.3 -77 L 5.3 -77 L 6.0 -83 L -6.0 -83 Z" fill="#e6e8f6" stroke="#8c90ad" stroke-width="0.7"/>
<path d="M -6.6 -83 L 6.6 -83 L 7.2 -89 L -7.2 -89 Z" fill="#eceefa" stroke="#8c90ad" stroke-width="0.7"/>
<path d="M -10.8 -89 L 10.8 -89 L 10.8 -101 L -10.8 -101 Z" fill="#e4e6f6" stroke="#8c90ad" stroke-width="0.7"/>
<path d="M -3 -93.3 L 2 -93.3 L 2 -95.1 L -3 -95.1 Z" fill="#5b7bd0"/>
<path d="M -10.8 -101 L 10.8 -101 L 10.8 -150 L -10.8 -150 Z" fill="#e4e6f6" stroke="#8c90ad" stroke-width="0.7"/>
<path d="M 5.6 -89 L 10.8 -89 L 10.8 -150 L 5.6 -150 Z" fill="#c5cbec" stroke="#8c90ad" stroke-width="0.5"/>
<path d="M -5.2 -103.5 L 3.6 -103.5 L 3.6 -126 L -5.2 -126 Z" fill="#3d4150"/>
<path d="M -0.6 -104.5 L 3.6 -104.5 L 3.6 -125 L -0.6 -125 Z" fill="#6b6f7c"/>
<path d="M -10.8 -145.5 L -10.8 -153 C -16 -153.5 -24 -152.5 -27.5 -147 C -29 -144.5 -28.5 -142 -26.6 -141.2 C -25.2 -140.8 -24.6 -142.4 -24.2 -143.8 C -22.6 -147.2 -17 -147.5 -10.8 -145.5 Z" fill="#e4e6f6" stroke="#8c90ad" stroke-width="0.7"/>
<path d="M -10.8 -150 L 10.8 -150 L 10.8 -154 L -10.8 -154 Z" fill="#e4e6f6" stroke="#8c90ad" stroke-width="0.7"/>
<path d="M -3 -154 L 3 -154 L 3 -161 L -3 -161 Z" fill="#a7b8df" stroke="#8c90ad" stroke-width="0.6"/>
<path d="M -6 -161 L 6 -161 L 6 -168 L -6 -168 Z" fill="#e28868" stroke="#b56448" stroke-width="0.6"/>
</g>
<g transform="translate(143 241.2) rotate(15)">
<line x1="0" y1="0" x2="0" y2="-18" stroke="#8a8a8a" stroke-width="0.9" stroke-linecap="butt"/>
<path d="M -2 -18 L 2 -18 L 4.6 -40 L -4.6 -40 Z" fill="#f39a2c" stroke="#c77a1a" stroke-width="0.6"/>
<path d="M -4.4 -40 L 4.4 -40 L 4.8 -57 L -4.8 -57 Z" fill="#d3dcd9" stroke="#8a9694" stroke-width="0.6"/>
<path d="M -1.6 -42 L 1.6 -42 L 1.8 -55 L -1.8 -55 Z" fill="#4d5d5a"/>
<path d="M -5 -57 L 5 -57 L 5 -64.5 L -5 -64.5 Z" fill="#2f3030"/>
<path d="M -5 -64.5 L 5 -64.5 L 5 -135 L -5 -135 Z" fill="#f7f7f7" stroke="#b0b0b0" stroke-width="0.7"/>
<line x1="-5" y1="-68" x2="0.5" y2="-68" stroke="#9a9a9a" stroke-width="0.5" stroke-linecap="butt"/>
<line x1="-5" y1="-73" x2="-1.5" y2="-73" stroke="#9a9a9a" stroke-width="0.5" stroke-linecap="butt"/>
<line x1="-5" y1="-78" x2="0.5" y2="-78" stroke="#9a9a9a" stroke-width="0.5" stroke-linecap="butt"/>
<line x1="-5" y1="-83" x2="-1.5" y2="-83" stroke="#9a9a9a" stroke-width="0.5" stroke-linecap="butt"/>
<line x1="-5" y1="-88" x2="0.5" y2="-88" stroke="#9a9a9a" stroke-width="0.5" stroke-linecap="butt"/>
<line x1="-5" y1="-93" x2="-1.5" y2="-93" stroke="#9a9a9a" stroke-width="0.5" stroke-linecap="butt"/>
<line x1="-5" y1="-98" x2="0.5" y2="-98" stroke="#9a9a9a" stroke-width="0.5" stroke-linecap="butt"/>
<line x1="-5" y1="-103" x2="-1.5" y2="-103" stroke="#9a9a9a" stroke-width="0.5" stroke-linecap="butt"/>
<line x1="-5" y1="-108" x2="0.5" y2="-108" stroke="#9a9a9a" stroke-width="0.5" stroke-linecap="butt"/>
<line x1="-5" y1="-113" x2="-1.5" y2="-113" stroke="#9a9a9a" stroke-width="0.5" stroke-linecap="butt"/>
<line x1="-5" y1="-118" x2="0.5" y2="-118" stroke="#9a9a9a" stroke-width="0.5" stroke-linecap="butt"/>
<line x1="-5" y1="-123" x2="-1.5" y2="-123" stroke="#9a9a9a" stroke-width="0.5" stroke-linecap="butt"/>
<line x1="-5" y1="-128" x2="0.5" y2="-128" stroke="#9a9a9a" stroke-width="0.5" stroke-linecap="butt"/>
<line x1="-2.5" y1="-66" x2="-2.5" y2="-120" stroke="#777" stroke-width="0.8" stroke-linecap="butt"/>
<path d="M -10.5 -135 L 10.5 -135 L 10.5 -138.5 L -10.5 -138.5 Z" fill="#e8e8e8" stroke="#aaaaaa" stroke-width="0.6"/>
<path d="M -2.6 -138.5 L 2.6 -138.5 L 2.6 -164 L -2.6 -164 Z" fill="#f2f2f2" stroke="#aaaaaa" stroke-width="0.6"/>
<path d="M -7.5 -164 L 7.5 -164 L 7.5 -167 L -7.5 -167 Z" fill="#e0e0e0" stroke="#aaaaaa" stroke-width="0.6"/>
</g>
<g transform="translate(388 240.8) rotate(-18.8)">
<path d="M -0.4 0 L 0.4 0 L 3.0 -38 L -3.0 -38 Z" fill="#c3ecf3" stroke="#8fb8c4" stroke-width="0.6"/>
<path d="M -3.2 -38 L 3.2 -38 L 3.5 -44.5 L -3.5 -44.5 Z" fill="#a9cde6" stroke="#86a8c0" stroke-width="0.6"/>
<path d="M -3.5 -44.5 L 3.5 -44.5 L 4.4 -77 L -4.4 -77 Z" fill="#eef0fa" stroke="#8c90ad" stroke-width="0.7"/>
<path d="M -5.3 -77 L 5.3 -77 L 6.0 -83 L -6.0 -83 Z" fill="#e6e8f6" stroke="#8c90ad" stroke-width="0.7"/>
<path d="M -6.6 -83 L 6.6 -83 L 7.2 -89 L -7.2 -89 Z" fill="#eceefa" stroke="#8c90ad" stroke-width="0.7"/>
<path d="M -10.8 -89 L 10.8 -89 L 10.8 -101 L -10.8 -101 Z" fill="#e4e6f6" stroke="#8c90ad" stroke-width="0.7"/>
<path d="M -3 -93.3 L 2 -93.3 L 2 -95.1 L -3 -95.1 Z" fill="#5b7bd0"/>
<path d="M -10.8 -101 L 10.8 -101 L 10.8 -150 L -10.8 -150 Z" fill="#e4e6f6" stroke="#8c90ad" stroke-width="0.7"/>
<path d="M 5.6 -89 L 10.8 -89 L 10.8 -150 L 5.6 -150 Z" fill="#c5cbec" stroke="#8c90ad" stroke-width="0.5"/>
<path d="M -5.2 -103.5 L 3.6 -103.5 L 3.6 -126 L -5.2 -126 Z" fill="#3d4150"/>
<path d="M -0.6 -104.5 L 3.6 -104.5 L 3.6 -125 L -0.6 -125 Z" fill="#6b6f7c"/>
<path d="M -10.8 -145.5 L -10.8 -153 C -16 -153.5 -24 -152.5 -27.5 -147 C -29 -144.5 -28.5 -142 -26.6 -141.2 C -25.2 -140.8 -24.6 -142.4 -24.2 -143.8 C -22.6 -147.2 -17 -147.5 -10.8 -145.5 Z" fill="#e4e6f6" stroke="#8c90ad" stroke-width="0.7"/>
<path d="M -10.8 -150 L 10.8 -150 L 10.8 -154 L -10.8 -154 Z" fill="#e4e6f6" stroke="#8c90ad" stroke-width="0.7"/>
<path d="M -3 -154 L 3 -154 L 3 -161 L -3 -161 Z" fill="#a7b8df" stroke="#8c90ad" stroke-width="0.6"/>
<path d="M -6 -161 L 6 -161 L 6 -168 L -6 -168 Z" fill="#e28868" stroke="#b56448" stroke-width="0.6"/>
</g>
<g transform="translate(405.2 241.2) rotate(15)">
<line x1="0" y1="0" x2="0" y2="-18" stroke="#8a8a8a" stroke-width="0.9" stroke-linecap="butt"/>
<path d="M -2 -18 L 2 -18 L 4.6 -40 L -4.6 -40 Z" fill="#f39a2c" stroke="#c77a1a" stroke-width="0.6"/>
<path d="M -4.4 -40 L 4.4 -40 L 4.8 -57 L -4.8 -57 Z" fill="#d3dcd9" stroke="#8a9694" stroke-width="0.6"/>
<path d="M -1.6 -42 L 1.6 -42 L 1.8 -55 L -1.8 -55 Z" fill="#4d5d5a"/>
<path d="M -5 -57 L 5 -57 L 5 -64.5 L -5 -64.5 Z" fill="#2f3030"/>
<path d="M -5 -64.5 L 5 -64.5 L 5 -135 L -5 -135 Z" fill="#f7f7f7" stroke="#b0b0b0" stroke-width="0.7"/>
<line x1="-5" y1="-68" x2="0.5" y2="-68" stroke="#9a9a9a" stroke-width="0.5" stroke-linecap="butt"/>
<line x1="-5" y1="-73" x2="-1.5" y2="-73" stroke="#9a9a9a" stroke-width="0.5" stroke-linecap="butt"/>
<line x1="-5" y1="-78" x2="0.5" y2="-78" stroke="#9a9a9a" stroke-width="0.5" stroke-linecap="butt"/>
<line x1="-5" y1="-83" x2="-1.5" y2="-83" stroke="#9a9a9a" stroke-width="0.5" stroke-linecap="butt"/>
<line x1="-5" y1="-88" x2="0.5" y2="-88" stroke="#9a9a9a" stroke-width="0.5" stroke-linecap="butt"/>
<line x1="-5" y1="-93" x2="-1.5" y2="-93" stroke="#9a9a9a" stroke-width="0.5" stroke-linecap="butt"/>
<line x1="-5" y1="-98" x2="0.5" y2="-98" stroke="#9a9a9a" stroke-width="0.5" stroke-linecap="butt"/>
<line x1="-5" y1="-103" x2="-1.5" y2="-103" stroke="#9a9a9a" stroke-width="0.5" stroke-linecap="butt"/>
<line x1="-5" y1="-108" x2="0.5" y2="-108" stroke="#9a9a9a" stroke-width="0.5" stroke-linecap="butt"/>
<line x1="-5" y1="-113" x2="-1.5" y2="-113" stroke="#9a9a9a" stroke-width="0.5" stroke-linecap="butt"/>
<line x1="-5" y1="-118" x2="0.5" y2="-118" stroke="#9a9a9a" stroke-width="0.5" stroke-linecap="butt"/>
<line x1="-5" y1="-123" x2="-1.5" y2="-123" stroke="#9a9a9a" stroke-width="0.5" stroke-linecap="butt"/>
<line x1="-5" y1="-128" x2="0.5" y2="-128" stroke="#9a9a9a" stroke-width="0.5" stroke-linecap="butt"/>
<line x1="-2.5" y1="-66" x2="-2.5" y2="-120" stroke="#777" stroke-width="0.8" stroke-linecap="butt"/>
<path d="M -10.5 -135 L 10.5 -135 L 10.5 -138.5 L -10.5 -138.5 Z" fill="#e8e8e8" stroke="#aaaaaa" stroke-width="0.6"/>
<path d="M -2.6 -138.5 L 2.6 -138.5 L 2.6 -164 L -2.6 -164 Z" fill="#f2f2f2" stroke="#aaaaaa" stroke-width="0.6"/>
<path d="M -7.5 -164 L 7.5 -164 L 7.5 -167 L -7.5 -167 Z" fill="#e0e0e0" stroke="#aaaaaa" stroke-width="0.6"/>
</g>
<text x="122" y="152.6" font-family='"Liberation Sans", Arial, Helvetica, sans-serif' font-size="22.5" font-weight="normal" text-anchor="start">or</text>
<text x="384" y="153.2" font-family='"Liberation Sans", Arial, Helvetica, sans-serif' font-size="22.5" font-weight="normal" text-anchor="start">or</text>
<path d="M 78.8 250.4 C 77 246 74 242 67 237.8 C 62 235 56 234.2 51.7 234.5 C 45 235 40 236.5 35 239.8 C 29 243.5 23 248.5 17 251.5 C 13 253.5 9 254.8 6.2 254.2 C 4.7 254.2 4 255 4.3 256 C 5 257.8 7.5 258.6 10 258.6 C 14 258.4 18 256 22.5 252.6 C 27 249 32 245.3 37 243 C 42 240.6 47 239.6 52 239.6 C 58 239.8 63 242 66.5 245.5 C 68 247 69 249 69.6 250.6 Z" fill="#ffffff" stroke="#000" stroke-width="1.71"/>
<path d="M 73 249.5 C 71 245 68 242.5 64 240.5" fill="none" stroke="#9a9a9a" stroke-width="1.6"/>
<path d="M 40.4 290 L 40.4 284 A 34.2 33.6 0 0 1 108.8 284 L 108.8 290" fill="#ffffff" stroke="#000" stroke-width="1.9"/>
<path d="M 49.6 310.8 A 16.3 16.3 0 1 1 67.2 297.8" fill="#ffffff" stroke="#000" stroke-width="1.9"/>
<path d="M 99.6 310.8 A 16.3 16.3 0 1 0 82.0 297.8" fill="#ffffff" stroke="#000" stroke-width="1.9"/>
<path d="M 38.6 299.5 C 39.5 287 46 282.6 52 282.6 C 58.5 282.6 62.8 286.5 64.3 291.6 C 60.5 289.2 56.5 288.3 52.2 288.6 C 45.5 289.4 41.5 293.5 38.6 299.5 Z" fill="#ababab"/>
<path d="M 110.6 299.5 C 109.7 287 103.2 282.6 97.2 282.6 C 90.7 282.6 86.4 286.5 84.9 291.6 C 88.7 289.2 92.7 288.3 97 288.6 C 103.7 289.4 107.7 293.5 110.6 299.5 Z" fill="#ababab"/>
<path d="M 48.5 310.6 L 50.6 311.2 L 57 324.4 C 61 330 67 335.2 74.6 335.4 C 82.2 335.2 88.2 330 92.2 324.4 L 98.6 311.2 L 100.7 310.6" fill="none" stroke="#000" stroke-width="1.9"/>
<ellipse cx="64.9" cy="316.7" rx="2.9" ry="3.7" fill="#000"/>
<ellipse cx="83.4" cy="316.7" rx="2.9" ry="3.7" fill="#000"/>
<ellipse cx="64.9" cy="315.8" rx="0.9" ry="1.4" fill="#fff"/>
<ellipse cx="83.4" cy="315.8" rx="0.9" ry="1.4" fill="#fff"/>
<path d="M 71.8 329.6 C 73.5 328.6 75.8 328.6 77.6 329.6 C 77.4 332.2 76 333.8 74.7 334.2 C 73.4 333.8 72 332.2 71.8 329.6 Z" fill="#000"/>
<path d="M 60 327.5 C 63 328.5 66 329.6 68.5 331.5" fill="none" stroke="#000" stroke-width="1.2"/>
<path d="M 89.2 327.5 C 86.2 328.5 83.2 329.6 80.7 331.5" fill="none" stroke="#000" stroke-width="1.2"/>
<path d="M 57.5 325.6 Q 50 321.8 45.4 328.4" fill="none" stroke="#000" stroke-width="1.3"/>
<path d="M 59.8 328.6 Q 53 328.5 48.5 336" fill="none" stroke="#000" stroke-width="1.3"/>
<path d="M 61.6 330.8 Q 57 333 55.3 341.2" fill="none" stroke="#000" stroke-width="1.3"/>
<path d="M 91.7 325.6 Q 99.2 321.8 103.8 328.4" fill="none" stroke="#000" stroke-width="1.3"/>
<path d="M 89.4 328.6 Q 96.2 328.5 100.7 336" fill="none" stroke="#000" stroke-width="1.3"/>
<path d="M 87.6 330.8 Q 92.2 333 93.9 341.2" fill="none" stroke="#000" stroke-width="1.3"/>
<line x1="135.2" y1="293.6" x2="660.6" y2="293.6" stroke="#333333" stroke-width="1.7" stroke-linecap="butt"/>
<line x1="135.2" y1="271.6" x2="135.2" y2="315.8" stroke="#333333" stroke-width="1.7" stroke-linecap="butt"/>
<line x1="397" y1="271.6" x2="397" y2="315.8" stroke="#333333" stroke-width="1.7" stroke-linecap="butt"/>
<line x1="660.6" y1="271.6" x2="660.6" y2="315.8" stroke="#333333" stroke-width="1.7" stroke-linecap="butt"/>
<text x="115.4" y="266.2" font-family='"Liberation Sans", Arial, Helvetica, sans-serif' font-size="26.5" font-weight="normal" text-anchor="start">D0</text>
<text x="372.4" y="266.2" font-family='"Liberation Sans", Arial, Helvetica, sans-serif' font-size="26.5" font-weight="normal" text-anchor="start">D21</text>
<text x="634.6" y="266.2" font-family='"Liberation Sans", Arial, Helvetica, sans-serif' font-size="26.5" font-weight="normal" text-anchor="start">D42</text>
<g transform="translate(622.5 92.6) scale(1)">
<path d="M 35.4 0.6 41.1 0.6 41.1 29.2 35.4 29.2 Z" fill="#b9d3e6" stroke="#8aa7bd" stroke-width="0.6"/>
<line x1="35.4" y1="3.4" x2="41.1" y2="3.4" stroke="#8aa7bd" stroke-width="0.8" stroke-linecap="butt"/>
<line x1="35.4" y1="6.4" x2="41.1" y2="6.4" stroke="#8aa7bd" stroke-width="0.8" stroke-linecap="butt"/>
<line x1="35.4" y1="9.4" x2="41.1" y2="9.4" stroke="#8aa7bd" stroke-width="0.8" stroke-linecap="butt"/>
<line x1="35.4" y1="12.4" x2="41.1" y2="12.4" stroke="#8aa7bd" stroke-width="0.8" stroke-linecap="butt"/>
<line x1="35.4" y1="15.4" x2="41.1" y2="15.4" stroke="#8aa7bd" stroke-width="0.8" stroke-linecap="butt"/>
<line x1="35.4" y1="18.4" x2="41.1" y2="18.4" stroke="#8aa7bd" stroke-width="0.8" stroke-linecap="butt"/>
<line x1="35.4" y1="21.4" x2="41.1" y2="21.4" stroke="#8aa7bd" stroke-width="0.8" stroke-linecap="butt"/>
<line x1="35.4" y1="24.4" x2="41.1" y2="24.4" stroke="#8aa7bd" stroke-width="0.8" stroke-linecap="butt"/>
<line x1="35.4" y1="27.4" x2="41.1" y2="27.4" stroke="#8aa7bd" stroke-width="0.8" stroke-linecap="butt"/>
<path d="M 36.5 28.4 32 38.4" fill="none" stroke="#a3bfd3" stroke-width="1.6"/>
<path d="M 40 28.4 44.5 38.4" fill="none" stroke="#a3bfd3" stroke-width="1.6"/>
<path d="M 26.8 3.9 C 31 5 33 6.5 33.2 10 L 33.3 25 C 34 30 36 34 35.8 38.2 C 35 46 33.5 52 31.7 57.9 C 27 61 21 62 2.2 64.4 C 1 55 0.8 48 1 41.5 C 1.3 33 2.5 28 4.7 25.1 C 8 18 12 12 13.7 10.4 C 18 6 22 3.9 26.8 3.9 Z" fill="#e6c4d6" stroke="#b48aa3" stroke-width="0.8"/>
<path d="M 50.5 3.9 C 47 4.5 45 6 44.8 8 L 44 25 C 43.3 30 43 33 43.1 35.8 C 45 40 45.8 43 45.6 45.6 C 46 52 46.3 56 46.4 60.3 C 55 63 64 66 73.4 66.9 C 75 56 75.6 48 75.5 41.5 C 75 33 74.5 28 73.4 25.1 C 70 18 67 14 65.2 12 C 62 7 57 4.7 50.5 3.9 Z" fill="#e6c4d6" stroke="#b48aa3" stroke-width="0.8"/>
<path d="M 3 34 C 12 36 24 39 34 41" fill="none" stroke="#f6e8ef" stroke-width="1"/>
<path d="M 3 45 C 6 52 10 56 13 60" fill="none" stroke="#f6e8ef" stroke-width="0.9"/>
<path d="M 74 47 C 69 53 64 57 58 61" fill="none" stroke="#f6e8ef" stroke-width="0.9"/>
<path d="M 46 43 C 50 40 51 47 50 55 C 51 60 54 62 58 62" fill="none" stroke="#d7a9c2" stroke-width="1.4"/>
<path d="M 2.5 60 C 12 58 22 56 33 55" fill="none" stroke="#d7a9c2" stroke-width="1.6"/>
<circle cx="11.67" cy="18.54" r="0.55" fill="#c99ab6"/>
<circle cx="15.51" cy="20.82" r="0.55" fill="#c99ab6"/>
<circle cx="7.6" cy="31.67" r="0.55" fill="#c99ab6"/>
<circle cx="28.03" cy="49.22" r="0.55" fill="#c99ab6"/>
<circle cx="24.36" cy="23.76" r="0.55" fill="#c99ab6"/>
<circle cx="18.88" cy="26.17" r="0.55" fill="#c99ab6"/>
<circle cx="10.14" cy="18.67" r="0.55" fill="#c99ab6"/>
<circle cx="11.15" cy="54.81" r="0.55" fill="#c99ab6"/>
<circle cx="25.89" cy="49.49" r="0.55" fill="#c99ab6"/>
<circle cx="25.21" cy="22.51" r="0.55" fill="#c99ab6"/>
<circle cx="13.44" cy="41.59" r="0.55" fill="#c99ab6"/>
<circle cx="23.57" cy="51.6" r="0.55" fill="#c99ab6"/>
<circle cx="27.12" cy="17.82" r="0.55" fill="#c99ab6"/>
<circle cx="20.54" cy="43.55" r="0.55" fill="#c99ab6"/>
<circle cx="18.14" cy="21.82" r="0.55" fill="#c99ab6"/>
<circle cx="17.37" cy="17.93" r="0.55" fill="#c99ab6"/>
<circle cx="28.43" cy="52.08" r="0.55" fill="#c99ab6"/>
<circle cx="19.14" cy="27.21" r="0.55" fill="#c99ab6"/>
<circle cx="27.81" cy="39.18" r="0.55" fill="#c99ab6"/>
<circle cx="27.18" cy="51.31" r="0.55" fill="#c99ab6"/>
<circle cx="60.18" cy="31.87" r="0.55" fill="#c99ab6"/>
<circle cx="62.18" cy="32.69" r="0.55" fill="#c99ab6"/>
<circle cx="52.55" cy="26.65" r="0.55" fill="#c99ab6"/>
<circle cx="66.88" cy="14.08" r="0.55" fill="#c99ab6"/>
<circle cx="50.02" cy="42.06" r="0.55" fill="#c99ab6"/>
<circle cx="55.17" cy="37.66" r="0.55" fill="#c99ab6"/>
<circle cx="59.37" cy="28.46" r="0.55" fill="#c99ab6"/>
<circle cx="70.94" cy="21.39" r="0.55" fill="#c99ab6"/>
<circle cx="58.08" cy="21.73" r="0.55" fill="#c99ab6"/>
<circle cx="62.92" cy="25.26" r="0.55" fill="#c99ab6"/>
<circle cx="56.83" cy="47.85" r="0.55" fill="#c99ab6"/>
<circle cx="56.05" cy="38.81" r="0.55" fill="#c99ab6"/>
<circle cx="68.89" cy="16.85" r="0.55" fill="#c99ab6"/>
<circle cx="50.36" cy="22.99" r="0.55" fill="#c99ab6"/>
<circle cx="65.83" cy="41.54" r="0.55" fill="#c99ab6"/>
<circle cx="54.22" cy="27.89" r="0.55" fill="#c99ab6"/>
<circle cx="52.91" cy="34.03" r="0.55" fill="#c99ab6"/>
<circle cx="49.94" cy="45.47" r="0.55" fill="#c99ab6"/>
<circle cx="68.71" cy="57.83" r="0.55" fill="#c99ab6"/>
<circle cx="65.17" cy="58.07" r="0.55" fill="#c99ab6"/>
</g>
<g transform="translate(642 169.7) scale(1)">
<path d="M 15.5 0.4 C 19 0.6 24 3 28.6 6.1 C 32.5 9.5 34.5 13 35.1 17.6 C 36.5 23 36.8 27 36.7 29.9 C 36 37 34.5 44 32.6 49.5 C 29.5 55 26 58.5 23.6 61 C 20 64 17 65.4 13.8 65.5 C 10 65.5 6.5 64.5 4.8 62.6 C 2 60 1.2 57 1.6 54.4 C 2.5 51 4.5 49 7.3 45.7 C 8.3 42 8 40 7.3 36.4 C 8.8 32 9 28 8.9 25.8 C 8 20 7.2 16 7.3 13.5 C 7.4 9 7.5 7 8.1 5.3 C 10 2 12.5 0.4 15.5 0.4 Z" fill="#9d6c8f" stroke="#3f2638" stroke-width="0.9"/>
<path d="M 9.5 14 C 10 22 11.5 30 10.5 38 C 10 44 7 48 5 53 C 7 57 12 59 16 58 C 14 50 13 42 14 34 C 15 26 13 18 9.5 14 Z" fill="#b386a6"/>
<path d="M 17.9 6.9 C 24 11 27 15 26.9 19.2 C 28.5 24 29 29 28.6 29.9 C 28 36 27 40 25.3 42.1 C 23 47 21.5 51 19.6 54.4" fill="none" stroke="#3f2638" stroke-width="0.8" stroke-dasharray="2.5 1.2"/>
<path d="M 19 8 C 24 11 26 14 26 16" fill="none" stroke="#e2c8da" stroke-width="0.9"/>
<path d="M 14 30 C 15 35 15 40 13 46" fill="none" stroke="#d9bcd0" stroke-width="1.2"/>
<path d="M 20 58 C 25 55 29 50 32 44" fill="none" stroke="#7d4a6c" stroke-width="1.5"/>
</g>
<path d="M 397 322.6 C 400.25 331.84 410 339.9 410 351.6 A 13 13 0 0 1 384 351.6 C 384 339.9 393.75 331.84 397 322.6 Z" fill="#de1d12"/>
<path d="M 660.6 322.6 C 663.85 331.84 673.6 339.9 673.6 351.6 A 13 13 0 0 1 647.6 351.6 C 647.6 339.9 657.35 331.84 660.6 322.6 Z" fill="#de1d12"/>
<text x="65.7" y="427.8" font-family='"Liberation Sans", Arial, Helvetica, sans-serif' font-size="26" font-weight="normal" text-anchor="start">IgG (ELISA)</text>
<text x="65.7" y="478.4" font-family='"Liberation Sans", Arial, Helvetica, sans-serif' font-size="26" font-weight="normal" text-anchor="start">nAbs (pseudovirus)</text>
<text x="65.7" y="529.2" font-family='"Liberation Sans", Arial, Helvetica, sans-serif' font-size="26" font-weight="normal" text-anchor="start">T cell (ICS)</text>
<text x="65.7" y="580" font-family='"Liberation Sans", Arial, Helvetica, sans-serif' font-size="26" font-weight="normal" text-anchor="start">IgA and IgG (ELISA)</text>
<text x="65.7" y="630.8" font-family='"Liberation Sans", Arial, Helvetica, sans-serif' font-size="26" font-weight="normal" text-anchor="start">T cell (ICS)</text>
<path d="M 36 405.2 C 38.55 412.31 46.2 418.12 46.2 427.3 A 10.2 10.2 0 0 1 25.8 427.3 C 25.8 418.12 33.45 412.31 36 405.2 Z" fill="#de1d12"/>
<path d="M 36 456.4 C 38.55 463.51 46.2 469.32 46.2 478.5 A 10.2 10.2 0 0 1 25.8 478.5 C 25.8 469.32 33.45 463.51 36 456.4 Z" fill="#de1d12"/>
<g transform="translate(26.5 503.7) scale(0.49)">
<path d="M 15.5 0.4 C 19 0.6 24 3 28.6 6.1 C 32.5 9.5 34.5 13 35.1 17.6 C 36.5 23 36.8 27 36.7 29.9 C 36 37 34.5 44 32.6 49.5 C 29.5 55 26 58.5 23.6 61 C 20 64 17 65.4 13.8 65.5 C 10 65.5 6.5 64.5 4.8 62.6 C 2 60 1.2 57 1.6 54.4 C 2.5 51 4.5 49 7.3 45.7 C 8.3 42 8 40 7.3 36.4 C 8.8 32 9 28 8.9 25.8 C 8 20 7.2 16 7.3 13.5 C 7.4 9 7.5 7 8.1 5.3 C 10 2 12.5 0.4 15.5 0.4 Z" fill="#9d6c8f" stroke="#3f2638" stroke-width="0.9"/>
<path d="M 9.5 14 C 10 22 11.5 30 10.5 38 C 10 44 7 48 5 53 C 7 57 12 59 16 58 C 14 50 13 42 14 34 C 15 26 13 18 9.5 14 Z" fill="#b386a6"/>
<path d="M 17.9 6.9 C 24 11 27 15 26.9 19.2 C 28.5 24 29 29 28.6 29.9 C 28 36 27 40 25.3 42.1 C 23 47 21.5 51 19.6 54.4" fill="none" stroke="#3f2638" stroke-width="0.8" stroke-dasharray="2.5 1.2"/>
<path d="M 19 8 C 24 11 26 14 26 16" fill="none" stroke="#e2c8da" stroke-width="0.9"/>
<path d="M 14 30 C 15 35 15 40 13 46" fill="none" stroke="#d9bcd0" stroke-width="1.2"/>
<path d="M 20 58 C 25 55 29 50 32 44" fill="none" stroke="#7d4a6c" stroke-width="1.5"/>
</g>
<g transform="translate(17.6 555.7) scale(0.49)">
<path d="M 35.4 0.6 41.1 0.6 41.1 29.2 35.4 29.2 Z" fill="#b9d3e6" stroke="#8aa7bd" stroke-width="0.6"/>
<line x1="35.4" y1="3.4" x2="41.1" y2="3.4" stroke="#8aa7bd" stroke-width="0.8" stroke-linecap="butt"/>
<line x1="35.4" y1="6.4" x2="41.1" y2="6.4" stroke="#8aa7bd" stroke-width="0.8" stroke-linecap="butt"/>
<line x1="35.4" y1="9.4" x2="41.1" y2="9.4" stroke="#8aa7bd" stroke-width="0.8" stroke-linecap="butt"/>
<line x1="35.4" y1="12.4" x2="41.1" y2="12.4" stroke="#8aa7bd" stroke-width="0.8" stroke-linecap="butt"/>
<line x1="35.4" y1="15.4" x2="41.1" y2="15.4" stroke="#8aa7bd" stroke-width="0.8" stroke-linecap="butt"/>
<line x1="35.4" y1="18.4" x2="41.1" y2="18.4" stroke="#8aa7bd" stroke-width="0.8" stroke-linecap="butt"/>
<line x1="35.4" y1="21.4" x2="41.1" y2="21.4" stroke="#8aa7bd" stroke-width="0.8" stroke-linecap="butt"/>
<line x1="35.4" y1="24.4" x2="41.1" y2="24.4" stroke="#8aa7bd" stroke-width="0.8" stroke-linecap="butt"/>
<line x1="35.4" y1="27.4" x2="41.1" y2="27.4" stroke="#8aa7bd" stroke-width="0.8" stroke-linecap="butt"/>
<path d="M 36.5 28.4 32 38.4" fill="none" stroke="#a3bfd3" stroke-width="1.6"/>
<path d="M 40 28.4 44.5 38.4" fill="none" stroke="#a3bfd3" stroke-width="1.6"/>
<path d="M 26.8 3.9 C 31 5 33 6.5 33.2 10 L 33.3 25 C 34 30 36 34 35.8 38.2 C 35 46 33.5 52 31.7 57.9 C 27 61 21 62 2.2 64.4 C 1 55 0.8 48 1 41.5 C 1.3 33 2.5 28 4.7 25.1 C 8 18 12 12 13.7 10.4 C 18 6 22 3.9 26.8 3.9 Z" fill="#e6c4d6" stroke="#b48aa3" stroke-width="0.8"/>
<path d="M 50.5 3.9 C 47 4.5 45 6 44.8 8 L 44 25 C 43.3 30 43 33 43.1 35.8 C 45 40 45.8 43 45.6 45.6 C 46 52 46.3 56 46.4 60.3 C 55 63 64 66 73.4 66.9 C 75 56 75.6 48 75.5 41.5 C 75 33 74.5 28 73.4 25.1 C 70 18 67 14 65.2 12 C 62 7 57 4.7 50.5 3.9 Z" fill="#e6c4d6" stroke="#b48aa3" stroke-width="0.8"/>
<path d="M 3 34 C 12 36 24 39 34 41" fill="none" stroke="#f6e8ef" stroke-width="1"/>
<path d="M 3 45 C 6 52 10 56 13 60" fill="none" stroke="#f6e8ef" stroke-width="0.9"/>
<path d="M 74 47 C 69 53 64 57 58 61" fill="none" stroke="#f6e8ef" stroke-width="0.9"/>
<path d="M 46 43 C 50 40 51 47 50 55 C 51 60 54 62 58 62" fill="none" stroke="#d7a9c2" stroke-width="1.4"/>
<path d="M 2.5 60 C 12 58 22 56 33 55" fill="none" stroke="#d7a9c2" stroke-width="1.6"/>
<circle cx="11.67" cy="18.54" r="0.55" fill="#c99ab6"/>
<circle cx="15.51" cy="20.82" r="0.55" fill="#c99ab6"/>
<circle cx="7.6" cy="31.67" r="0.55" fill="#c99ab6"/>
<circle cx="28.03" cy="49.22" r="0.55" fill="#c99ab6"/>
<circle cx="24.36" cy="23.76" r="0.55" fill="#c99ab6"/>
<circle cx="18.88" cy="26.17" r="0.55" fill="#c99ab6"/>
<circle cx="10.14" cy="18.67" r="0.55" fill="#c99ab6"/>
<circle cx="11.15" cy="54.81" r="0.55" fill="#c99ab6"/>
<circle cx="25.89" cy="49.49" r="0.55" fill="#c99ab6"/>
<circle cx="25.21" cy="22.51" r="0.55" fill="#c99ab6"/>
<circle cx="13.44" cy="41.59" r="0.55" fill="#c99ab6"/>
<circle cx="23.57" cy="51.6" r="0.55" fill="#c99ab6"/>
<circle cx="27.12" cy="17.82" r="0.55" fill="#c99ab6"/>
<circle cx="20.54" cy="43.55" r="0.55" fill="#c99ab6"/>
<circle cx="18.14" cy="21.82" r="0.55" fill="#c99ab6"/>
<circle cx="17.37" cy="17.93" r="0.55" fill="#c99ab6"/>
<circle cx="28.43" cy="52.08" r="0.55" fill="#c99ab6"/>
<circle cx="19.14" cy="27.21" r="0.55" fill="#c99ab6"/>
<circle cx="27.81" cy="39.18" r="0.55" fill="#c99ab6"/>
<circle cx="27.18" cy="51.31" r="0.55" fill="#c99ab6"/>
<circle cx="60.18" cy="31.87" r="0.55" fill="#c99ab6"/>
<circle cx="62.18" cy="32.69" r="0.55" fill="#c99ab6"/>
<circle cx="52.55" cy="26.65" r="0.55" fill="#c99ab6"/>
<circle cx="66.88" cy="14.08" r="0.55" fill="#c99ab6"/>
<circle cx="50.02" cy="42.06" r="0.55" fill="#c99ab6"/>
<circle cx="55.17" cy="37.66" r="0.55" fill="#c99ab6"/>
<circle cx="59.37" cy="28.46" r="0.55" fill="#c99ab6"/>
<circle cx="70.94" cy="21.39" r="0.55" fill="#c99ab6"/>
<circle cx="58.08" cy="21.73" r="0.55" fill="#c99ab6"/>
<circle cx="62.92" cy="25.26" r="0.55" fill="#c99ab6"/>
<circle cx="56.83" cy="47.85" r="0.55" fill="#c99ab6"/>
<circle cx="56.05" cy="38.81" r="0.55" fill="#c99ab6"/>
<circle cx="68.89" cy="16.85" r="0.55" fill="#c99ab6"/>
<circle cx="50.36" cy="22.99" r="0.55" fill="#c99ab6"/>
<circle cx="65.83" cy="41.54" r="0.55" fill="#c99ab6"/>
<circle cx="54.22" cy="27.89" r="0.55" fill="#c99ab6"/>
<circle cx="52.91" cy="34.03" r="0.55" fill="#c99ab6"/>
<circle cx="49.94" cy="45.47" r="0.55" fill="#c99ab6"/>
<circle cx="68.71" cy="57.83" r="0.55" fill="#c99ab6"/>
<circle cx="65.17" cy="58.07" r="0.55" fill="#c99ab6"/>
</g>
<g transform="translate(17.6 606.1) scale(0.49)">
<path d="M 35.4 0.6 41.1 0.6 41.1 29.2 35.4 29.2 Z" fill="#b9d3e6" stroke="#8aa7bd" stroke-width="0.6"/>
<line x1="35.4" y1="3.4" x2="41.1" y2="3.4" stroke="#8aa7bd" stroke-width="0.8" stroke-linecap="butt"/>
<line x1="35.4" y1="6.4" x2="41.1" y2="6.4" stroke="#8aa7bd" stroke-width="0.8" stroke-linecap="butt"/>
<line x1="35.4" y1="9.4" x2="41.1" y2="9.4" stroke="#8aa7bd" stroke-width="0.8" stroke-linecap="butt"/>
<line x1="35.4" y1="12.4" x2="41.1" y2="12.4" stroke="#8aa7bd" stroke-width="0.8" stroke-linecap="butt"/>
<line x1="35.4" y1="15.4" x2="41.1" y2="15.4" stroke="#8aa7bd" stroke-width="0.8" stroke-linecap="butt"/>
<line x1="35.4" y1="18.4" x2="41.1" y2="18.4" stroke="#8aa7bd" stroke-width="0.8" stroke-linecap="butt"/>
<line x1="35.4" y1="21.4" x2="41.1" y2="21.4" stroke="#8aa7bd" stroke-width="0.8" stroke-linecap="butt"/>
<line x1="35.4" y1="24.4" x2="41.1" y2="24.4" stroke="#8aa7bd" stroke-width="0.8" stroke-linecap="butt"/>
<line x1="35.4" y1="27.4" x2="41.1" y2="27.4" stroke="#8aa7bd" stroke-width="0.8" stroke-linecap="butt"/>
<path d="M 36.5 28.4 32 38.4" fill="none" stroke="#a3bfd3" stroke-width="1.6"/>
<path d="M 40 28.4 44.5 38.4" fill="none" stroke="#a3bfd3" stroke-width="1.6"/>
<path d="M 26.8 3.9 C 31 5 33 6.5 33.2 10 L 33.3 25 C 34 30 36 34 35.8 38.2 C 35 46 33.5 52 31.7 57.9 C 27 61 21 62 2.2 64.4 C 1 55 0.8 48 1 41.5 C 1.3 33 2.5 28 4.7 25.1 C 8 18 12 12 13.7 10.4 C 18 6 22 3.9 26.8 3.9 Z" fill="#e6c4d6" stroke="#b48aa3" stroke-width="0.8"/>
<path d="M 50.5 3.9 C 47 4.5 45 6 44.8 8 L 44 25 C 43.3 30 43 33 43.1 35.8 C 45 40 45.8 43 45.6 45.6 C 46 52 46.3 56 46.4 60.3 C 55 63 64 66 73.4 66.9 C 75 56 75.6 48 75.5 41.5 C 75 33 74.5 28 73.4 25.1 C 70 18 67 14 65.2 12 C 62 7 57 4.7 50.5 3.9 Z" fill="#e6c4d6" stroke="#b48aa3" stroke-width="0.8"/>
<path d="M 3 34 C 12 36 24 39 34 41" fill="none" stroke="#f6e8ef" stroke-width="1"/>
<path d="M 3 45 C 6 52 10 56 13 60" fill="none" stroke="#f6e8ef" stroke-width="0.9"/>
<path d="M 74 47 C 69 53 64 57 58 61" fill="none" stroke="#f6e8ef" stroke-width="0.9"/>
<path d="M 46 43 C 50 40 51 47 50 55 C 51 60 54 62 58 62" fill="none" stroke="#d7a9c2" stroke-width="1.4"/>
<path d="M 2.5 60 C 12 58 22 56 33 55" fill="none" stroke="#d7a9c2" stroke-width="1.6"/>
<circle cx="11.67" cy="18.54" r="0.55" fill="#c99ab6"/>
<circle cx="15.51" cy="20.82" r="0.55" fill="#c99ab6"/>
<circle cx="7.6" cy="31.67" r="0.55" fill="#c99ab6"/>
<circle cx="28.03" cy="49.22" r="0.55" fill="#c99ab6"/>
<circle cx="24.36" cy="23.76" r="0.55" fill="#c99ab6"/>
<circle cx="18.88" cy="26.17" r="0.55" fill="#c99ab6"/>
<circle cx="10.14" cy="18.67" r="0.55" fill="#c99ab6"/>
<circle cx="11.15" cy="54.81" r="0.55" fill="#c99ab6"/>
<circle cx="25.89" cy="49.49" r="0.55" fill="#c99ab6"/>
<circle cx="25.21" cy="22.51" r="0.55" fill="#c99ab6"/>
<circle cx="13.44" cy="41.59" r="0.55" fill="#c99ab6"/>
<circle cx="23.57" cy="51.6" r="0.55" fill="#c99ab6"/>
<circle cx="27.12" cy="17.82" r="0.55" fill="#c99ab6"/>
<circle cx="20.54" cy="43.55" r="0.55" fill="#c99ab6"/>
<circle cx="18.14" cy="21.82" r="0.55" fill="#c99ab6"/>
<circle cx="17.37" cy="17.93" r="0.55" fill="#c99ab6"/>
<circle cx="28.43" cy="52.08" r="0.55" fill="#c99ab6"/>
<circle cx="19.14" cy="27.21" r="0.55" fill="#c99ab6"/>
<circle cx="27.81" cy="39.18" r="0.55" fill="#c99ab6"/>
<circle cx="27.18" cy="51.31" r="0.55" fill="#c99ab6"/>
<circle cx="60.18" cy="31.87" r="0.55" fill="#c99ab6"/>
<circle cx="62.18" cy="32.69" r="0.55" fill="#c99ab6"/>
<circle cx="52.55" cy="26.65" r="0.55" fill="#c99ab6"/>
<circle cx="66.88" cy="14.08" r="0.55" fill="#c99ab6"/>
<circle cx="50.02" cy="42.06" r="0.55" fill="#c99ab6"/>
<circle cx="55.17" cy="37.66" r="0.55" fill="#c99ab6"/>
<circle cx="59.37" cy="28.46" r="0.55" fill="#c99ab6"/>
<circle cx="70.94" cy="21.39" r="0.55" fill="#c99ab6"/>
<circle cx="58.08" cy="21.73" r="0.55" fill="#c99ab6"/>
<circle cx="62.92" cy="25.26" r="0.55" fill="#c99ab6"/>
<circle cx="56.83" cy="47.85" r="0.55" fill="#c99ab6"/>
<circle cx="56.05" cy="38.81" r="0.55" fill="#c99ab6"/>
<circle cx="68.89" cy="16.85" r="0.55" fill="#c99ab6"/>
<circle cx="50.36" cy="22.99" r="0.55" fill="#c99ab6"/>
<circle cx="65.83" cy="41.54" r="0.55" fill="#c99ab6"/>
<circle cx="54.22" cy="27.89" r="0.55" fill="#c99ab6"/>
<circle cx="52.91" cy="34.03" r="0.55" fill="#c99ab6"/>
<circle cx="49.94" cy="45.47" r="0.55" fill="#c99ab6"/>
<circle cx="68.71" cy="57.83" r="0.55" fill="#c99ab6"/>
<circle cx="65.17" cy="58.07" r="0.55" fill="#c99ab6"/>
</g>
<polyline points="379.7,413.9 391.1,425.4 413.2,404.5" fill="none" stroke="#000" stroke-width="4.7" stroke-linejoin="miter"/>
<polyline points="642.5,413.9 653.9,425.4 676,404.5" fill="none" stroke="#000" stroke-width="4.7" stroke-linejoin="miter"/>
<polyline points="642.5,464.5 653.9,476 676,455.1" fill="none" stroke="#000" stroke-width="4.7" stroke-linejoin="miter"/>
<polyline points="642.5,515.3 653.9,526.8 676,505.9" fill="none" stroke="#000" stroke-width="4.7" stroke-linejoin="miter"/>
<polyline points="642.5,566.1 653.9,577.6 676,556.7" fill="none" stroke="#000" stroke-width="4.7" stroke-linejoin="miter"/>
<polyline points="642.5,616.9 653.9,628.4 676,607.5" fill="none" stroke="#000" stroke-width="4.7" stroke-linejoin="miter"/>
</svg>
</body></html>
